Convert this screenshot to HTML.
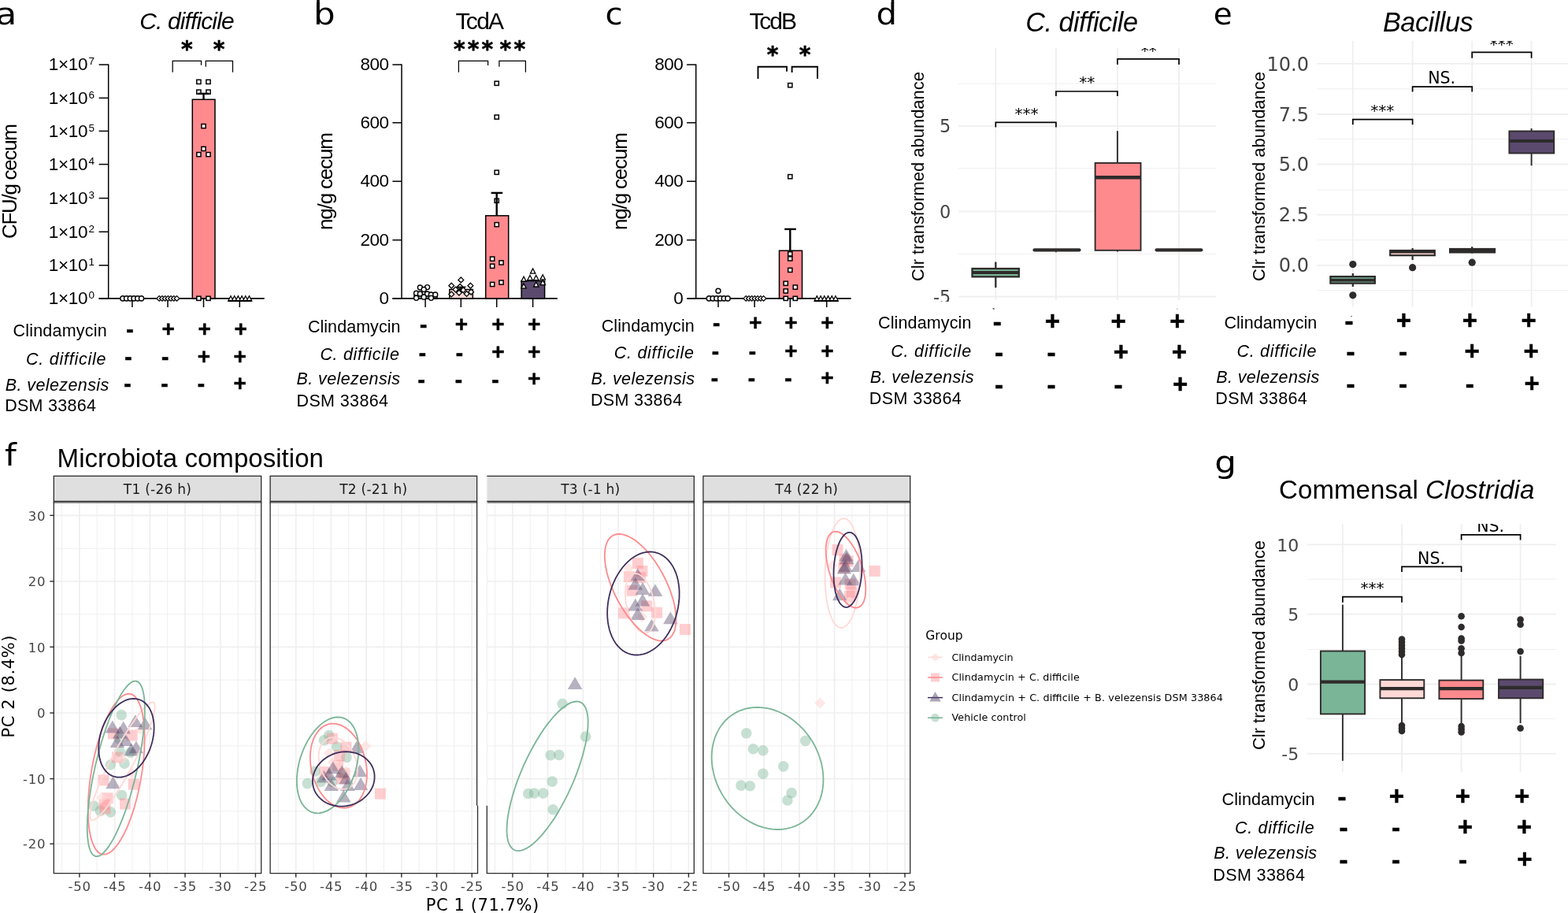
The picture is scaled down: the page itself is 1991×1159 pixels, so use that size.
<!DOCTYPE html>
<html lang="en"><head><meta charset="utf-8"><title>Figure</title>
<style>
html,body{margin:0;padding:0;background:#fff;}
body{width:1991px;height:1159px;overflow:hidden;}
svg{display:block;}
text{white-space:pre;}
</style></head><body>
<svg width="1991" height="1159" viewBox="0 0 1991 1159">
<rect x="0" y="0" width="1991" height="1159" fill="#fff"/>
<text transform="translate(-5.62 31.20) scale(1.17 1.0)" font-size="37.3" font-family="'DejaVu Sans', 'Liberation Sans', sans-serif" fill="#000">a</text>
<text x="177.30" y="37.00" font-size="30" font-family="'Liberation Sans', Arial, Helvetica, sans-serif" fill="#000" font-style="italic" textLength="120.30" lengthAdjust="spacing" >C. difficile</text>
<text x="237.30" y="72.20" font-size="28" font-family="'DejaVu Sans', 'Liberation Sans', sans-serif" fill="#000" text-anchor="middle" font-weight="bold" stroke="#000" stroke-width="0.6">*</text>
<text x="278.20" y="72.20" font-size="28" font-family="'DejaVu Sans', 'Liberation Sans', sans-serif" fill="#000" text-anchor="middle" font-weight="bold" stroke="#000" stroke-width="0.6">*</text>
<path d="M219.2 91.7V77.4H255.5V82.8" fill="none" stroke="#000" stroke-width="1.25" />
<path d="M261.3 84.7V77.4H295.5V91.7" fill="none" stroke="#000" stroke-width="1.25" />
<line x1="137.70" y1="81.40" x2="137.70" y2="378.80" stroke="#000" stroke-width="1.5" />
<line x1="125.60" y1="378.90" x2="335.70" y2="378.90" stroke="#000" stroke-width="1.7" />
<line x1="125.60" y1="82.10" x2="137.70" y2="82.10" stroke="#000" stroke-width="1.5" />
<text x="61.80" y="89.30" font-size="22.5" font-family="'Liberation Sans', Arial, Helvetica, sans-serif" fill="#000" textLength="49.60" lengthAdjust="spacing" >1×10</text>
<text x="112.60" y="82.30" font-size="13.5" font-family="'Liberation Sans', Arial, Helvetica, sans-serif" fill="#000" >7</text>
<line x1="125.60" y1="124.40" x2="137.70" y2="124.40" stroke="#000" stroke-width="1.5" />
<text x="61.80" y="131.60" font-size="22.5" font-family="'Liberation Sans', Arial, Helvetica, sans-serif" fill="#000" textLength="49.60" lengthAdjust="spacing" >1×10</text>
<text x="112.60" y="124.60" font-size="13.5" font-family="'Liberation Sans', Arial, Helvetica, sans-serif" fill="#000" >6</text>
<line x1="125.60" y1="166.40" x2="137.70" y2="166.40" stroke="#000" stroke-width="1.5" />
<text x="61.80" y="173.60" font-size="22.5" font-family="'Liberation Sans', Arial, Helvetica, sans-serif" fill="#000" textLength="49.60" lengthAdjust="spacing" >1×10</text>
<text x="112.60" y="166.60" font-size="13.5" font-family="'Liberation Sans', Arial, Helvetica, sans-serif" fill="#000" >5</text>
<line x1="125.60" y1="208.60" x2="137.70" y2="208.60" stroke="#000" stroke-width="1.5" />
<text x="61.80" y="215.80" font-size="22.5" font-family="'Liberation Sans', Arial, Helvetica, sans-serif" fill="#000" textLength="49.60" lengthAdjust="spacing" >1×10</text>
<text x="112.60" y="208.80" font-size="13.5" font-family="'Liberation Sans', Arial, Helvetica, sans-serif" fill="#000" >4</text>
<line x1="125.60" y1="251.60" x2="137.70" y2="251.60" stroke="#000" stroke-width="1.5" />
<text x="61.80" y="258.80" font-size="22.5" font-family="'Liberation Sans', Arial, Helvetica, sans-serif" fill="#000" textLength="49.60" lengthAdjust="spacing" >1×10</text>
<text x="112.60" y="251.80" font-size="13.5" font-family="'Liberation Sans', Arial, Helvetica, sans-serif" fill="#000" >3</text>
<line x1="125.60" y1="294.30" x2="137.70" y2="294.30" stroke="#000" stroke-width="1.5" />
<text x="61.80" y="301.50" font-size="22.5" font-family="'Liberation Sans', Arial, Helvetica, sans-serif" fill="#000" textLength="49.60" lengthAdjust="spacing" >1×10</text>
<text x="112.60" y="294.50" font-size="13.5" font-family="'Liberation Sans', Arial, Helvetica, sans-serif" fill="#000" >2</text>
<line x1="125.60" y1="336.80" x2="137.70" y2="336.80" stroke="#000" stroke-width="1.5" />
<text x="61.80" y="344.00" font-size="22.5" font-family="'Liberation Sans', Arial, Helvetica, sans-serif" fill="#000" textLength="49.60" lengthAdjust="spacing" >1×10</text>
<text x="112.60" y="337.00" font-size="13.5" font-family="'Liberation Sans', Arial, Helvetica, sans-serif" fill="#000" >1</text>
<line x1="125.60" y1="378.80" x2="137.70" y2="378.80" stroke="#000" stroke-width="1.5" />
<text x="61.80" y="386.00" font-size="22.5" font-family="'Liberation Sans', Arial, Helvetica, sans-serif" fill="#000" textLength="49.60" lengthAdjust="spacing" >1×10</text>
<text x="112.60" y="379.00" font-size="13.5" font-family="'Liberation Sans', Arial, Helvetica, sans-serif" fill="#000" >0</text>
<text x="20.70" y="303.00" font-size="26" font-family="'Liberation Sans', Arial, Helvetica, sans-serif" fill="#000" textLength="146.00" lengthAdjust="spacing" transform="rotate(-90 20.70 303.00)" >CFU/g cecum</text>
<line x1="167.90" y1="378.80" x2="167.90" y2="390.00" stroke="#000" stroke-width="1.5" />
<line x1="213.00" y1="378.80" x2="213.00" y2="390.00" stroke="#000" stroke-width="1.5" />
<line x1="258.50" y1="378.80" x2="258.50" y2="390.00" stroke="#000" stroke-width="1.5" />
<line x1="304.30" y1="378.80" x2="304.30" y2="390.00" stroke="#000" stroke-width="1.5" />
<rect x="244.30" y="126.30" width="28.70" height="252.50" fill="#FF8A8E" stroke="#000" stroke-width="1.5" />
<rect x="249.80" y="101.30" width="5.20" height="5.20" fill="#fff" stroke="#000" stroke-width="1.5" />
<rect x="261.90" y="101.30" width="5.20" height="5.20" fill="#fff" stroke="#000" stroke-width="1.5" />
<rect x="249.80" y="114.10" width="5.20" height="5.20" fill="#fff" stroke="#000" stroke-width="1.5" />
<rect x="261.90" y="114.10" width="5.20" height="5.20" fill="#fff" stroke="#000" stroke-width="1.5" />
<rect x="255.90" y="157.50" width="5.20" height="5.20" fill="#fff" stroke="#000" stroke-width="1.5" />
<rect x="255.90" y="186.30" width="5.20" height="5.20" fill="#fff" stroke="#000" stroke-width="1.5" />
<rect x="249.80" y="193.50" width="5.20" height="5.20" fill="#fff" stroke="#000" stroke-width="1.5" />
<rect x="261.90" y="193.50" width="5.20" height="5.20" fill="#fff" stroke="#000" stroke-width="1.5" />
<rect x="249.80" y="376.20" width="5.20" height="5.20" fill="#fff" stroke="#000" stroke-width="1.5" />
<rect x="261.90" y="376.20" width="5.20" height="5.20" fill="#fff" stroke="#000" stroke-width="1.5" />
<line x1="258.50" y1="118.70" x2="258.50" y2="126.30" stroke="#000" stroke-width="2.4" />
<line x1="251.60" y1="118.90" x2="265.30" y2="118.90" stroke="#000" stroke-width="2.4" />
<circle cx="155.90" cy="378.90" r="3.1" fill="#fff" stroke="#000" stroke-width="1.4" />
<circle cx="160.62" cy="378.90" r="3.1" fill="#fff" stroke="#000" stroke-width="1.4" />
<circle cx="165.34" cy="378.90" r="3.1" fill="#fff" stroke="#000" stroke-width="1.4" />
<circle cx="170.06" cy="378.90" r="3.1" fill="#fff" stroke="#000" stroke-width="1.4" />
<circle cx="174.78" cy="378.90" r="3.1" fill="#fff" stroke="#000" stroke-width="1.4" />
<circle cx="179.50" cy="378.90" r="3.1" fill="#fff" stroke="#000" stroke-width="1.4" />
<path d="M202.20 375.60L205.50 378.90L202.20 382.20L198.90 378.90Z" fill="#fff" stroke="#000" stroke-width="1.3" />
<path d="M205.92 375.60L209.22 378.90L205.92 382.20L202.62 378.90Z" fill="#fff" stroke="#000" stroke-width="1.3" />
<path d="M209.64 375.60L212.94 378.90L209.64 382.20L206.34 378.90Z" fill="#fff" stroke="#000" stroke-width="1.3" />
<path d="M213.36 375.60L216.66 378.90L213.36 382.20L210.06 378.90Z" fill="#fff" stroke="#000" stroke-width="1.3" />
<path d="M217.08 375.60L220.38 378.90L217.08 382.20L213.78 378.90Z" fill="#fff" stroke="#000" stroke-width="1.3" />
<path d="M220.80 375.60L224.10 378.90L220.80 382.20L217.50 378.90Z" fill="#fff" stroke="#000" stroke-width="1.3" />
<path d="M224.52 375.60L227.82 378.90L224.52 382.20L221.22 378.90Z" fill="#fff" stroke="#000" stroke-width="1.3" />
<line x1="289.40" y1="382.30" x2="319.60" y2="382.30" stroke="#000" stroke-width="1.3" />
<path d="M293.00 375.68L296.20 381.76L289.80 381.76Z" fill="#fff" stroke="#000" stroke-width="1.3" />
<path d="M297.70 375.68L300.90 381.76L294.50 381.76Z" fill="#fff" stroke="#000" stroke-width="1.3" />
<path d="M302.40 375.68L305.60 381.76L299.20 381.76Z" fill="#fff" stroke="#000" stroke-width="1.3" />
<path d="M307.10 375.68L310.30 381.76L303.90 381.76Z" fill="#fff" stroke="#000" stroke-width="1.3" />
<path d="M311.80 375.68L315.00 381.76L308.60 381.76Z" fill="#fff" stroke="#000" stroke-width="1.3" />
<path d="M316.50 375.68L319.70 381.76L313.30 381.76Z" fill="#fff" stroke="#000" stroke-width="1.3" />
<text x="16.40" y="427.10" font-size="21.5" font-family="'Liberation Sans', Arial, Helvetica, sans-serif" fill="#000" textLength="119.30" lengthAdjust="spacing" >Clindamycin</text>
<text x="32.90" y="462.60" font-size="21.5" font-family="'Liberation Sans', Arial, Helvetica, sans-serif" fill="#000" font-style="italic" textLength="101.60" lengthAdjust="spacing" >C. difficile</text>
<text x="6.80" y="495.70" font-size="21.5" font-family="'Liberation Sans', Arial, Helvetica, sans-serif" fill="#000" font-style="italic" textLength="131.40" lengthAdjust="spacing" >B. velezensis</text>
<text x="6.20" y="522.30" font-size="21.5" font-family="'Liberation Sans', Arial, Helvetica, sans-serif" fill="#000" textLength="115.80" lengthAdjust="spacing" >DSM 33864</text>
<text x="165.00" y="428.30" font-size="28" font-family="'Liberation Sans', Arial, Helvetica, sans-serif" fill="#000" text-anchor="middle" font-weight="bold" stroke="#000" stroke-width="0.6">-</text>
<text x="213.80" y="427.38" font-size="28" font-family="'Liberation Sans', Arial, Helvetica, sans-serif" fill="#000" text-anchor="middle" font-weight="bold" stroke="#000" stroke-width="0.45">+</text>
<text x="259.70" y="427.38" font-size="28" font-family="'Liberation Sans', Arial, Helvetica, sans-serif" fill="#000" text-anchor="middle" font-weight="bold" stroke="#000" stroke-width="0.45">+</text>
<text x="305.60" y="427.38" font-size="28" font-family="'Liberation Sans', Arial, Helvetica, sans-serif" fill="#000" text-anchor="middle" font-weight="bold" stroke="#000" stroke-width="0.45">+</text>
<text x="163.00" y="462.90" font-size="28" font-family="'Liberation Sans', Arial, Helvetica, sans-serif" fill="#000" text-anchor="middle" font-weight="bold" stroke="#000" stroke-width="0.6">-</text>
<text x="209.70" y="462.90" font-size="28" font-family="'Liberation Sans', Arial, Helvetica, sans-serif" fill="#000" text-anchor="middle" font-weight="bold" stroke="#000" stroke-width="0.6">-</text>
<text x="258.90" y="461.88" font-size="28" font-family="'Liberation Sans', Arial, Helvetica, sans-serif" fill="#000" text-anchor="middle" font-weight="bold" stroke="#000" stroke-width="0.45">+</text>
<text x="304.80" y="461.88" font-size="28" font-family="'Liberation Sans', Arial, Helvetica, sans-serif" fill="#000" text-anchor="middle" font-weight="bold" stroke="#000" stroke-width="0.45">+</text>
<text x="161.80" y="496.70" font-size="28" font-family="'Liberation Sans', Arial, Helvetica, sans-serif" fill="#000" text-anchor="middle" font-weight="bold" stroke="#000" stroke-width="0.6">-</text>
<text x="208.90" y="496.70" font-size="28" font-family="'Liberation Sans', Arial, Helvetica, sans-serif" fill="#000" text-anchor="middle" font-weight="bold" stroke="#000" stroke-width="0.6">-</text>
<text x="255.30" y="496.70" font-size="28" font-family="'Liberation Sans', Arial, Helvetica, sans-serif" fill="#000" text-anchor="middle" font-weight="bold" stroke="#000" stroke-width="0.6">-</text>
<text x="304.80" y="495.68" font-size="28" font-family="'Liberation Sans', Arial, Helvetica, sans-serif" fill="#000" text-anchor="middle" font-weight="bold" stroke="#000" stroke-width="0.45">+</text>
<text transform="translate(397.97 31.20) scale(1.17 1.0)" font-size="37.3" font-family="'DejaVu Sans', 'Liberation Sans', sans-serif" fill="#000">b</text>
<rect x="402.25" y="0.00" width="3.50" height="4.00" fill="#000" stroke="none" stroke-width="1" />
<text x="578.60" y="36.70" font-size="30" font-family="'Liberation Sans', Arial, Helvetica, sans-serif" fill="#000" textLength="61.50" lengthAdjust="spacing" >TcdA</text>
<text x="576.00" y="72.30" font-size="28" font-family="'DejaVu Sans', 'Liberation Sans', sans-serif" fill="#000" font-weight="bold" letter-spacing="3.15" stroke="#000" stroke-width="0.6">***</text>
<text x="634.60" y="72.30" font-size="28" font-family="'DejaVu Sans', 'Liberation Sans', sans-serif" fill="#000" font-weight="bold" letter-spacing="3.25" stroke="#000" stroke-width="0.6">**</text>
<path d="M582.4 91.7V77.4H619.6V83.0" fill="none" stroke="#000" stroke-width="1.25" />
<path d="M633.9 84.7V77.4H667.4V91.7" fill="none" stroke="#000" stroke-width="1.25" />
<line x1="510.00" y1="81.40" x2="510.00" y2="378.80" stroke="#000" stroke-width="1.5" />
<line x1="498.40" y1="378.90" x2="707.80" y2="378.90" stroke="#000" stroke-width="1.7" />
<line x1="498.40" y1="82.10" x2="510.00" y2="82.10" stroke="#000" stroke-width="1.5" />
<text x="494.00" y="89.30" font-size="22.5" font-family="'Liberation Sans', Arial, Helvetica, sans-serif" fill="#000" text-anchor="end" textLength="36.60" lengthAdjust="spacing" >800</text>
<line x1="498.40" y1="155.80" x2="510.00" y2="155.80" stroke="#000" stroke-width="1.5" />
<text x="494.00" y="163.00" font-size="22.5" font-family="'Liberation Sans', Arial, Helvetica, sans-serif" fill="#000" text-anchor="end" textLength="36.60" lengthAdjust="spacing" >600</text>
<line x1="498.40" y1="230.20" x2="510.00" y2="230.20" stroke="#000" stroke-width="1.5" />
<text x="494.00" y="237.40" font-size="22.5" font-family="'Liberation Sans', Arial, Helvetica, sans-serif" fill="#000" text-anchor="end" textLength="36.60" lengthAdjust="spacing" >400</text>
<line x1="498.40" y1="304.70" x2="510.00" y2="304.70" stroke="#000" stroke-width="1.5" />
<text x="494.00" y="311.90" font-size="22.5" font-family="'Liberation Sans', Arial, Helvetica, sans-serif" fill="#000" text-anchor="end" textLength="36.60" lengthAdjust="spacing" >200</text>
<line x1="498.40" y1="378.80" x2="510.00" y2="378.80" stroke="#000" stroke-width="1.5" />
<text x="494.00" y="386.00" font-size="22.5" font-family="'Liberation Sans', Arial, Helvetica, sans-serif" fill="#000" text-anchor="end" >0</text>
<text x="422.30" y="292.00" font-size="26" font-family="'Liberation Sans', Arial, Helvetica, sans-serif" fill="#000" textLength="124.00" lengthAdjust="spacing" transform="rotate(-90 422.30 292.00)" >ng/g cecum</text>
<line x1="540.10" y1="378.80" x2="540.10" y2="390.00" stroke="#000" stroke-width="1.5" />
<line x1="585.30" y1="378.80" x2="585.30" y2="390.00" stroke="#000" stroke-width="1.5" />
<line x1="630.70" y1="378.80" x2="630.70" y2="390.00" stroke="#000" stroke-width="1.5" />
<line x1="676.60" y1="378.80" x2="676.60" y2="390.00" stroke="#000" stroke-width="1.5" />
<rect x="526.00" y="373.50" width="29.00" height="5.30" fill="#7AB597" stroke="#000" stroke-width="1.5" />
<rect x="570.80" y="367.50" width="29.50" height="11.30" fill="#FFD9D6" stroke="#000" stroke-width="1.5" />
<rect x="616.70" y="273.80" width="29.00" height="105.00" fill="#FF8A8E" stroke="#000" stroke-width="1.5" />
<rect x="662.10" y="356.60" width="29.50" height="22.20" fill="#5B4A6E" stroke="#000" stroke-width="1.5" />
<rect x="628.10" y="103.20" width="5.20" height="5.20" fill="#fff" stroke="#000" stroke-width="1.5" />
<rect x="628.10" y="146.00" width="5.20" height="5.20" fill="#fff" stroke="#000" stroke-width="1.5" />
<rect x="628.10" y="216.20" width="5.20" height="5.20" fill="#fff" stroke="#000" stroke-width="1.5" />
<rect x="628.10" y="252.20" width="5.20" height="5.20" fill="#fff" stroke="#000" stroke-width="1.5" />
<rect x="628.12" y="282.52" width="5.20" height="5.20" fill="#fff" stroke="#000" stroke-width="1.5" />
<rect x="622.57" y="326.00" width="5.20" height="5.20" fill="#fff" stroke="#000" stroke-width="1.5" />
<rect x="622.57" y="335.18" width="5.20" height="5.20" fill="#fff" stroke="#000" stroke-width="1.5" />
<rect x="633.92" y="330.83" width="5.20" height="5.20" fill="#fff" stroke="#000" stroke-width="1.5" />
<rect x="622.57" y="358.37" width="5.20" height="5.20" fill="#fff" stroke="#000" stroke-width="1.5" />
<rect x="633.92" y="355.95" width="5.20" height="5.20" fill="#fff" stroke="#000" stroke-width="1.5" />
<circle cx="533.38" cy="365.07" r="3.0" fill="#fff" stroke="#000" stroke-width="1.4" />
<circle cx="542.56" cy="364.59" r="3.0" fill="#fff" stroke="#000" stroke-width="1.4" />
<circle cx="538.21" cy="367.49" r="3.0" fill="#fff" stroke="#000" stroke-width="1.4" />
<circle cx="528.55" cy="372.32" r="3.0" fill="#fff" stroke="#000" stroke-width="1.4" />
<circle cx="533.38" cy="373.04" r="3.0" fill="#fff" stroke="#000" stroke-width="1.4" />
<circle cx="542.56" cy="373.04" r="3.0" fill="#fff" stroke="#000" stroke-width="1.4" />
<circle cx="547.39" cy="374.01" r="3.0" fill="#fff" stroke="#000" stroke-width="1.4" />
<circle cx="552.71" cy="374.01" r="3.0" fill="#fff" stroke="#000" stroke-width="1.4" />
<circle cx="538.21" cy="377.15" r="3.0" fill="#fff" stroke="#000" stroke-width="1.4" />
<circle cx="528.55" cy="378.36" r="3.0" fill="#fff" stroke="#000" stroke-width="1.4" />
<circle cx="547.39" cy="378.36" r="3.0" fill="#fff" stroke="#000" stroke-width="1.4" />
<path d="M585.31 352.01L588.71 355.41L585.31 358.81L581.91 355.41Z" fill="#fff" stroke="#000" stroke-width="1.3" />
<path d="M573.24 359.26L576.64 362.66L573.24 366.06L569.84 362.66Z" fill="#fff" stroke="#000" stroke-width="1.3" />
<path d="M584.11 360.46L587.51 363.86L584.11 367.26L580.71 363.86Z" fill="#fff" stroke="#000" stroke-width="1.3" />
<path d="M597.39 359.26L600.79 362.66L597.39 366.06L593.99 362.66Z" fill="#fff" stroke="#000" stroke-width="1.3" />
<path d="M578.55 364.09L581.95 367.49L578.55 370.89L575.15 367.49Z" fill="#fff" stroke="#000" stroke-width="1.3" />
<path d="M588.21 364.81L591.61 368.21L588.21 371.61L584.81 368.21Z" fill="#fff" stroke="#000" stroke-width="1.3" />
<path d="M573.24 370.13L576.64 373.53L573.24 376.93L569.84 373.53Z" fill="#fff" stroke="#000" stroke-width="1.3" />
<path d="M582.90 368.19L586.30 371.59L582.90 374.99L579.50 371.59Z" fill="#fff" stroke="#000" stroke-width="1.3" />
<path d="M592.56 369.64L595.96 373.04L592.56 376.44L589.16 373.04Z" fill="#fff" stroke="#000" stroke-width="1.3" />
<path d="M598.12 367.23L601.52 370.63L598.12 374.03L594.72 370.63Z" fill="#fff" stroke="#000" stroke-width="1.3" />
<path d="M676.62 341.02L679.82 347.10L673.42 347.10Z" fill="#fff" stroke="#000" stroke-width="1.3" />
<path d="M665.02 351.17L668.22 357.25L661.82 357.25Z" fill="#fff" stroke="#000" stroke-width="1.3" />
<path d="M673.00 349.48L676.20 355.56L669.80 355.56Z" fill="#fff" stroke="#000" stroke-width="1.3" />
<path d="M680.72 349.48L683.92 355.56L677.52 355.56Z" fill="#fff" stroke="#000" stroke-width="1.3" />
<path d="M689.18 348.75L692.38 354.83L685.98 354.83Z" fill="#fff" stroke="#000" stroke-width="1.3" />
<path d="M665.02 359.86L668.22 365.94L661.82 365.94Z" fill="#fff" stroke="#000" stroke-width="1.3" />
<path d="M680.72 357.93L683.92 364.01L677.52 364.01Z" fill="#fff" stroke="#000" stroke-width="1.3" />
<path d="M689.18 355.51L692.38 361.59L685.98 361.59Z" fill="#fff" stroke="#000" stroke-width="1.3" />
<line x1="630.70" y1="244.70" x2="630.70" y2="274.00" stroke="#000" stroke-width="2.4" />
<line x1="623.60" y1="244.90" x2="638.20" y2="244.90" stroke="#000" stroke-width="2.4" />
<line x1="585.30" y1="364.50" x2="585.30" y2="368.00" stroke="#000" stroke-width="1.8" />
<line x1="579.50" y1="364.50" x2="591.50" y2="364.50" stroke="#000" stroke-width="1.8" />
<text x="390.90" y="422.20" font-size="21.5" font-family="'Liberation Sans', Arial, Helvetica, sans-serif" fill="#000" textLength="117.60" lengthAdjust="spacing" >Clindamycin</text>
<text x="406.40" y="456.50" font-size="21.5" font-family="'Liberation Sans', Arial, Helvetica, sans-serif" fill="#000" font-style="italic" textLength="100.60" lengthAdjust="spacing" >C. difficile</text>
<text x="376.60" y="488.30" font-size="21.5" font-family="'Liberation Sans', Arial, Helvetica, sans-serif" fill="#000" font-style="italic" textLength="131.40" lengthAdjust="spacing" >B. velezensis</text>
<text x="376.50" y="515.50" font-size="21.5" font-family="'Liberation Sans', Arial, Helvetica, sans-serif" fill="#000" textLength="116.50" lengthAdjust="spacing" >DSM 33864</text>
<text x="537.70" y="422.30" font-size="28" font-family="'Liberation Sans', Arial, Helvetica, sans-serif" fill="#000" text-anchor="middle" font-weight="bold" stroke="#000" stroke-width="0.6">-</text>
<text x="586.00" y="420.88" font-size="28" font-family="'Liberation Sans', Arial, Helvetica, sans-serif" fill="#000" text-anchor="middle" font-weight="bold" stroke="#000" stroke-width="0.45">+</text>
<text x="632.40" y="420.88" font-size="28" font-family="'Liberation Sans', Arial, Helvetica, sans-serif" fill="#000" text-anchor="middle" font-weight="bold" stroke="#000" stroke-width="0.45">+</text>
<text x="678.30" y="420.88" font-size="28" font-family="'Liberation Sans', Arial, Helvetica, sans-serif" fill="#000" text-anchor="middle" font-weight="bold" stroke="#000" stroke-width="0.45">+</text>
<text x="536.50" y="457.60" font-size="28" font-family="'Liberation Sans', Arial, Helvetica, sans-serif" fill="#000" text-anchor="middle" font-weight="bold" stroke="#000" stroke-width="0.6">-</text>
<text x="583.40" y="457.60" font-size="28" font-family="'Liberation Sans', Arial, Helvetica, sans-serif" fill="#000" text-anchor="middle" font-weight="bold" stroke="#000" stroke-width="0.6">-</text>
<text x="632.40" y="456.08" font-size="28" font-family="'Liberation Sans', Arial, Helvetica, sans-serif" fill="#000" text-anchor="middle" font-weight="bold" stroke="#000" stroke-width="0.45">+</text>
<text x="678.30" y="456.08" font-size="28" font-family="'Liberation Sans', Arial, Helvetica, sans-serif" fill="#000" text-anchor="middle" font-weight="bold" stroke="#000" stroke-width="0.45">+</text>
<text x="535.10" y="491.60" font-size="28" font-family="'Liberation Sans', Arial, Helvetica, sans-serif" fill="#000" text-anchor="middle" font-weight="bold" stroke="#000" stroke-width="0.6">-</text>
<text x="582.40" y="491.60" font-size="28" font-family="'Liberation Sans', Arial, Helvetica, sans-serif" fill="#000" text-anchor="middle" font-weight="bold" stroke="#000" stroke-width="0.6">-</text>
<text x="628.80" y="491.60" font-size="28" font-family="'Liberation Sans', Arial, Helvetica, sans-serif" fill="#000" text-anchor="middle" font-weight="bold" stroke="#000" stroke-width="0.6">-</text>
<text x="678.30" y="490.18" font-size="28" font-family="'Liberation Sans', Arial, Helvetica, sans-serif" fill="#000" text-anchor="middle" font-weight="bold" stroke="#000" stroke-width="0.45">+</text>
<text transform="translate(768.48 31.20) scale(1.08 1.0)" font-size="37.3" font-family="'DejaVu Sans', 'Liberation Sans', sans-serif" fill="#000">c</text>
<text x="951.40" y="36.70" font-size="30" font-family="'Liberation Sans', Arial, Helvetica, sans-serif" fill="#000" textLength="60.50" lengthAdjust="spacing" >TcdB</text>
<text x="981.10" y="79.10" font-size="28" font-family="'DejaVu Sans', 'Liberation Sans', sans-serif" fill="#000" text-anchor="middle" font-weight="bold" stroke="#000" stroke-width="0.6">*</text>
<text x="1022.10" y="79.10" font-size="28" font-family="'DejaVu Sans', 'Liberation Sans', sans-serif" fill="#000" text-anchor="middle" font-weight="bold" stroke="#000" stroke-width="0.6">*</text>
<path d="M962.5 99.9V84.7H999.0V90.7" fill="none" stroke="#000" stroke-width="1.9" />
<path d="M1005.6 91.9V84.7H1038.0V99.9" fill="none" stroke="#000" stroke-width="1.9" />
<line x1="883.70" y1="81.40" x2="883.70" y2="378.80" stroke="#000" stroke-width="1.5" />
<line x1="872.10" y1="378.90" x2="1080.60" y2="378.90" stroke="#000" stroke-width="1.7" />
<line x1="872.10" y1="82.10" x2="883.70" y2="82.10" stroke="#000" stroke-width="1.5" />
<text x="867.80" y="89.30" font-size="22.5" font-family="'Liberation Sans', Arial, Helvetica, sans-serif" fill="#000" text-anchor="end" textLength="36.60" lengthAdjust="spacing" >800</text>
<line x1="872.10" y1="155.80" x2="883.70" y2="155.80" stroke="#000" stroke-width="1.5" />
<text x="867.80" y="163.00" font-size="22.5" font-family="'Liberation Sans', Arial, Helvetica, sans-serif" fill="#000" text-anchor="end" textLength="36.60" lengthAdjust="spacing" >600</text>
<line x1="872.10" y1="230.20" x2="883.70" y2="230.20" stroke="#000" stroke-width="1.5" />
<text x="867.80" y="237.40" font-size="22.5" font-family="'Liberation Sans', Arial, Helvetica, sans-serif" fill="#000" text-anchor="end" textLength="36.60" lengthAdjust="spacing" >400</text>
<line x1="872.10" y1="304.70" x2="883.70" y2="304.70" stroke="#000" stroke-width="1.5" />
<text x="867.80" y="311.90" font-size="22.5" font-family="'Liberation Sans', Arial, Helvetica, sans-serif" fill="#000" text-anchor="end" textLength="36.60" lengthAdjust="spacing" >200</text>
<line x1="872.10" y1="378.80" x2="883.70" y2="378.80" stroke="#000" stroke-width="1.5" />
<text x="867.80" y="386.00" font-size="22.5" font-family="'Liberation Sans', Arial, Helvetica, sans-serif" fill="#000" text-anchor="end" >0</text>
<text x="796.30" y="292.00" font-size="26" font-family="'Liberation Sans', Arial, Helvetica, sans-serif" fill="#000" textLength="124.00" lengthAdjust="spacing" transform="rotate(-90 796.30 292.00)" >ng/g cecum</text>
<line x1="912.00" y1="378.80" x2="912.00" y2="390.00" stroke="#000" stroke-width="1.5" />
<line x1="958.10" y1="378.80" x2="958.10" y2="390.00" stroke="#000" stroke-width="1.5" />
<line x1="1003.30" y1="378.80" x2="1003.30" y2="390.00" stroke="#000" stroke-width="1.5" />
<line x1="1049.70" y1="378.80" x2="1049.70" y2="390.00" stroke="#000" stroke-width="1.5" />
<rect x="989.50" y="318.20" width="29.00" height="60.60" fill="#FF8A8E" stroke="#000" stroke-width="1.5" />
<rect x="1000.70" y="105.60" width="5.20" height="5.20" fill="#fff" stroke="#000" stroke-width="1.5" />
<rect x="1000.70" y="221.60" width="5.20" height="5.20" fill="#fff" stroke="#000" stroke-width="1.5" />
<rect x="1000.69" y="319.72" width="5.20" height="5.20" fill="#fff" stroke="#000" stroke-width="1.5" />
<rect x="1000.69" y="325.76" width="5.20" height="5.20" fill="#fff" stroke="#000" stroke-width="1.5" />
<rect x="1000.69" y="340.25" width="5.20" height="5.20" fill="#fff" stroke="#000" stroke-width="1.5" />
<rect x="995.13" y="357.16" width="5.20" height="5.20" fill="#fff" stroke="#000" stroke-width="1.5" />
<rect x="1007.21" y="361.99" width="5.20" height="5.20" fill="#fff" stroke="#000" stroke-width="1.5" />
<rect x="995.13" y="366.82" width="5.20" height="5.20" fill="#fff" stroke="#000" stroke-width="1.5" />
<rect x="995.13" y="376.24" width="5.20" height="5.20" fill="#fff" stroke="#000" stroke-width="1.5" />
<rect x="1007.21" y="376.24" width="5.20" height="5.20" fill="#fff" stroke="#000" stroke-width="1.5" />
<circle cx="900.39" cy="378.90" r="3.1" fill="#fff" stroke="#000" stroke-width="1.4" />
<circle cx="905.12" cy="378.90" r="3.1" fill="#fff" stroke="#000" stroke-width="1.4" />
<circle cx="909.86" cy="378.90" r="3.1" fill="#fff" stroke="#000" stroke-width="1.4" />
<circle cx="914.59" cy="378.90" r="3.1" fill="#fff" stroke="#000" stroke-width="1.4" />
<circle cx="919.32" cy="378.90" r="3.1" fill="#fff" stroke="#000" stroke-width="1.4" />
<circle cx="924.06" cy="378.90" r="3.1" fill="#fff" stroke="#000" stroke-width="1.4" />
<circle cx="911.98" cy="369.18" r="3.0" fill="#fff" stroke="#000" stroke-width="1.4" />
<path d="M947.25 375.60L950.55 378.90L947.25 382.20L943.95 378.90Z" fill="#fff" stroke="#000" stroke-width="1.3" />
<path d="M950.97 375.60L954.27 378.90L950.97 382.20L947.67 378.90Z" fill="#fff" stroke="#000" stroke-width="1.3" />
<path d="M954.69 375.60L957.99 378.90L954.69 382.20L951.39 378.90Z" fill="#fff" stroke="#000" stroke-width="1.3" />
<path d="M958.41 375.60L961.71 378.90L958.41 382.20L955.11 378.90Z" fill="#fff" stroke="#000" stroke-width="1.3" />
<path d="M962.13 375.60L965.43 378.90L962.13 382.20L958.83 378.90Z" fill="#fff" stroke="#000" stroke-width="1.3" />
<path d="M965.85 375.60L969.15 378.90L965.85 382.20L962.55 378.90Z" fill="#fff" stroke="#000" stroke-width="1.3" />
<path d="M969.57 375.60L972.87 378.90L969.57 382.20L966.27 378.90Z" fill="#fff" stroke="#000" stroke-width="1.3" />
<line x1="1033.72" y1="382.30" x2="1064.64" y2="382.30" stroke="#000" stroke-width="1.3" />
<path d="M1037.34 375.68L1040.54 381.76L1034.14 381.76Z" fill="#fff" stroke="#000" stroke-width="1.3" />
<path d="M1042.08 375.68L1045.28 381.76L1038.88 381.76Z" fill="#fff" stroke="#000" stroke-width="1.3" />
<path d="M1046.81 375.68L1050.01 381.76L1043.61 381.76Z" fill="#fff" stroke="#000" stroke-width="1.3" />
<path d="M1051.55 375.68L1054.75 381.76L1048.35 381.76Z" fill="#fff" stroke="#000" stroke-width="1.3" />
<path d="M1056.28 375.68L1059.48 381.76L1053.08 381.76Z" fill="#fff" stroke="#000" stroke-width="1.3" />
<path d="M1061.01 375.68L1064.21 381.76L1057.81 381.76Z" fill="#fff" stroke="#000" stroke-width="1.3" />
<line x1="1003.30" y1="290.70" x2="1003.30" y2="318.50" stroke="#000" stroke-width="2.4" />
<line x1="996.20" y1="290.90" x2="1010.80" y2="290.90" stroke="#000" stroke-width="2.4" />
<text x="763.70" y="420.50" font-size="21.5" font-family="'Liberation Sans', Arial, Helvetica, sans-serif" fill="#000" textLength="118.10" lengthAdjust="spacing" >Clindamycin</text>
<text x="779.70" y="455.00" font-size="21.5" font-family="'Liberation Sans', Arial, Helvetica, sans-serif" fill="#000" font-style="italic" textLength="101.30" lengthAdjust="spacing" >C. difficile</text>
<text x="750.40" y="487.60" font-size="21.5" font-family="'Liberation Sans', Arial, Helvetica, sans-serif" fill="#000" font-style="italic" textLength="131.60" lengthAdjust="spacing" >B. velezensis</text>
<text x="749.90" y="515.30" font-size="21.5" font-family="'Liberation Sans', Arial, Helvetica, sans-serif" fill="#000" textLength="116.20" lengthAdjust="spacing" >DSM 33864</text>
<text x="909.60" y="420.40" font-size="28" font-family="'Liberation Sans', Arial, Helvetica, sans-serif" fill="#000" text-anchor="middle" font-weight="bold" stroke="#000" stroke-width="0.6">-</text>
<text x="959.10" y="419.18" font-size="28" font-family="'Liberation Sans', Arial, Helvetica, sans-serif" fill="#000" text-anchor="middle" font-weight="bold" stroke="#000" stroke-width="0.45">+</text>
<text x="1004.50" y="419.18" font-size="28" font-family="'Liberation Sans', Arial, Helvetica, sans-serif" fill="#000" text-anchor="middle" font-weight="bold" stroke="#000" stroke-width="0.45">+</text>
<text x="1050.40" y="419.18" font-size="28" font-family="'Liberation Sans', Arial, Helvetica, sans-serif" fill="#000" text-anchor="middle" font-weight="bold" stroke="#000" stroke-width="0.45">+</text>
<text x="908.40" y="455.60" font-size="28" font-family="'Liberation Sans', Arial, Helvetica, sans-serif" fill="#000" text-anchor="middle" font-weight="bold" stroke="#000" stroke-width="0.6">-</text>
<text x="955.50" y="455.60" font-size="28" font-family="'Liberation Sans', Arial, Helvetica, sans-serif" fill="#000" text-anchor="middle" font-weight="bold" stroke="#000" stroke-width="0.6">-</text>
<text x="1004.50" y="454.68" font-size="28" font-family="'Liberation Sans', Arial, Helvetica, sans-serif" fill="#000" text-anchor="middle" font-weight="bold" stroke="#000" stroke-width="0.45">+</text>
<text x="1050.40" y="454.68" font-size="28" font-family="'Liberation Sans', Arial, Helvetica, sans-serif" fill="#000" text-anchor="middle" font-weight="bold" stroke="#000" stroke-width="0.45">+</text>
<text x="907.40" y="489.90" font-size="28" font-family="'Liberation Sans', Arial, Helvetica, sans-serif" fill="#000" text-anchor="middle" font-weight="bold" stroke="#000" stroke-width="0.6">-</text>
<text x="954.50" y="489.90" font-size="28" font-family="'Liberation Sans', Arial, Helvetica, sans-serif" fill="#000" text-anchor="middle" font-weight="bold" stroke="#000" stroke-width="0.6">-</text>
<text x="1000.90" y="489.90" font-size="28" font-family="'Liberation Sans', Arial, Helvetica, sans-serif" fill="#000" text-anchor="middle" font-weight="bold" stroke="#000" stroke-width="0.6">-</text>
<text x="1050.40" y="488.98" font-size="28" font-family="'Liberation Sans', Arial, Helvetica, sans-serif" fill="#000" text-anchor="middle" font-weight="bold" stroke="#000" stroke-width="0.45">+</text>
<text transform="translate(1112.40 31.20) scale(1.12 1.0)" font-size="37.3" font-family="'DejaVu Sans', 'Liberation Sans', sans-serif" fill="#000">d</text>
<rect x="1131.75" y="0.00" width="3.45" height="4.00" fill="#000" stroke="none" stroke-width="1" />
<text x="1302.30" y="39.90" font-size="34.2" font-family="'Liberation Sans', Arial, Helvetica, sans-serif" fill="#000" font-style="italic" textLength="142.60" lengthAdjust="spacing" >C. difficile</text>
<clipPath id="cpd"><rect x="1200" y="60.9" width="360" height="321.5"/></clipPath>
<clipPath id="cpdl"><rect x="1170" y="60.9" width="45" height="322"/></clipPath>
<line x1="1217.20" y1="106.30" x2="1544.00" y2="106.30" stroke="#EFEFEF" stroke-width="1.0" />
<line x1="1217.20" y1="213.80" x2="1544.00" y2="213.80" stroke="#EFEFEF" stroke-width="1.0" />
<line x1="1217.20" y1="322.30" x2="1544.00" y2="322.30" stroke="#EFEFEF" stroke-width="1.0" />
<line x1="1217.20" y1="160.20" x2="1544.00" y2="160.20" stroke="#EFEFEF" stroke-width="1.8" />
<line x1="1217.20" y1="268.30" x2="1544.00" y2="268.30" stroke="#EFEFEF" stroke-width="1.8" />
<line x1="1217.20" y1="376.50" x2="1544.00" y2="376.50" stroke="#EFEFEF" stroke-width="1.8" />
<line x1="1264.30" y1="60.90" x2="1264.30" y2="380.80" stroke="#EFEFEF" stroke-width="1.8" />
<line x1="1340.90" y1="60.90" x2="1340.90" y2="380.80" stroke="#EFEFEF" stroke-width="1.8" />
<line x1="1418.90" y1="60.90" x2="1418.90" y2="380.80" stroke="#EFEFEF" stroke-width="1.8" />
<line x1="1497.00" y1="60.90" x2="1497.00" y2="380.80" stroke="#EFEFEF" stroke-width="1.8" />
<text x="1207.40" y="168.40" font-size="22.5" font-family="'DejaVu Sans', 'Liberation Sans', sans-serif" fill="#454545" text-anchor="end" clip-path="url(#cpdl)">5</text>
<text x="1207.40" y="276.50" font-size="22.5" font-family="'DejaVu Sans', 'Liberation Sans', sans-serif" fill="#454545" text-anchor="end" clip-path="url(#cpdl)">0</text>
<text x="1207.40" y="384.70" font-size="22.5" font-family="'DejaVu Sans', 'Liberation Sans', sans-serif" fill="#454545" text-anchor="end" clip-path="url(#cpdl)">-5</text>
<text x="1172.50" y="357.00" font-size="22" font-family="'Liberation Sans', Arial, Helvetica, sans-serif" fill="#000" textLength="266.00" lengthAdjust="spacing" transform="rotate(-90 1172.50 357.00)" >Clr transformed abundance</text>
<path d="M1264.30 161.40V155.40H1340.90V161.40" fill="none" stroke="#000" stroke-width="1.7" clip-path="url(#cpd)"/>
<text x="1303.40" y="151.00" font-size="20" font-family="'DejaVu Sans', 'Liberation Sans', sans-serif" fill="#000" text-anchor="middle" clip-path="url(#cpd)">***</text>
<path d="M1340.90 122.00V116.00H1418.90V122.00" fill="none" stroke="#000" stroke-width="1.7" clip-path="url(#cpd)"/>
<text x="1380.30" y="111.20" font-size="20" font-family="'DejaVu Sans', 'Liberation Sans', sans-serif" fill="#000" text-anchor="middle" clip-path="url(#cpd)">**</text>
<path d="M1418.90 81.90V74.90H1497.00V81.90" fill="none" stroke="#000" stroke-width="1.7" clip-path="url(#cpd)"/>
<text x="1458.80" y="71.20" font-size="20" font-family="'DejaVu Sans', 'Liberation Sans', sans-serif" fill="#000" text-anchor="middle" clip-path="url(#cpd)">**</text>
<line x1="1264.30" y1="332.50" x2="1264.30" y2="341.00" stroke="#2E2B2B" stroke-width="2.3" />
<line x1="1264.30" y1="351.30" x2="1264.30" y2="365.10" stroke="#2E2B2B" stroke-width="2.3" />
<rect x="1234.50" y="341.00" width="59.30" height="10.30" fill="#7AB597" stroke="#2E2B2B" stroke-width="2.3" />
<line x1="1234.50" y1="346.00" x2="1293.80" y2="346.00" stroke="#2E2B2B" stroke-width="3.8" />
<line x1="1313.50" y1="317.30" x2="1370.40" y2="317.30" stroke="#2E2B2B" stroke-width="4.2" stroke-linecap="round"/>
<line x1="1340.90" y1="317.00" x2="1340.90" y2="320.50" stroke="#2E2B2B" stroke-width="1.2" />
<line x1="1418.90" y1="166.20" x2="1418.90" y2="206.90" stroke="#2E2B2B" stroke-width="1.9" />
<line x1="1418.90" y1="317.80" x2="1418.90" y2="319.50" stroke="#2E2B2B" stroke-width="1.9" />
<rect x="1390.60" y="206.90" width="57.90" height="110.90" fill="#FF8A8E" stroke="#2E2B2B" stroke-width="1.9" />
<line x1="1390.60" y1="225.20" x2="1448.50" y2="225.20" stroke="#2E2B2B" stroke-width="4.4" />
<line x1="1468.60" y1="317.30" x2="1525.30" y2="317.30" stroke="#2E2B2B" stroke-width="4.2" stroke-linecap="round"/>
<line x1="1260.60" y1="391.20" x2="1262.60" y2="392.60" stroke="#333" stroke-width="1.2" />
<circle cx="1494.80" cy="392.30" r="0.7" fill="#999" stroke="none" stroke-width="0" />
<text x="1115.00" y="417.00" font-size="21.5" font-family="'Liberation Sans', Arial, Helvetica, sans-serif" fill="#000" textLength="118.40" lengthAdjust="spacing" >Clindamycin</text>
<text x="1131.20" y="452.80" font-size="21.5" font-family="'Liberation Sans', Arial, Helvetica, sans-serif" fill="#000" font-style="italic" textLength="101.90" lengthAdjust="spacing" >C. difficile</text>
<text x="1104.80" y="485.90" font-size="21.5" font-family="'Liberation Sans', Arial, Helvetica, sans-serif" fill="#000" font-style="italic" textLength="131.70" lengthAdjust="spacing" >B. velezensis</text>
<text x="1103.80" y="513.10" font-size="21.5" font-family="'Liberation Sans', Arial, Helvetica, sans-serif" fill="#000" textLength="117.00" lengthAdjust="spacing" >DSM 33864</text>
<text x="1266.20" y="420.07" font-size="33" font-family="'Liberation Sans', Arial, Helvetica, sans-serif" fill="#000" text-anchor="middle" font-weight="bold" stroke="#000" stroke-width="0.6">-</text>
<text x="1336.30" y="419.23" font-size="33" font-family="'Liberation Sans', Arial, Helvetica, sans-serif" fill="#000" text-anchor="middle" font-weight="bold" stroke="#000" stroke-width="0.45">+</text>
<text x="1420.10" y="419.23" font-size="33" font-family="'Liberation Sans', Arial, Helvetica, sans-serif" fill="#000" text-anchor="middle" font-weight="bold" stroke="#000" stroke-width="0.45">+</text>
<text x="1495.00" y="419.23" font-size="33" font-family="'Liberation Sans', Arial, Helvetica, sans-serif" fill="#000" text-anchor="middle" font-weight="bold" stroke="#000" stroke-width="0.45">+</text>
<text x="1268.40" y="459.18" font-size="33" font-family="'Liberation Sans', Arial, Helvetica, sans-serif" fill="#000" text-anchor="middle" font-weight="bold" stroke="#000" stroke-width="0.6">-</text>
<text x="1335.10" y="459.18" font-size="33" font-family="'Liberation Sans', Arial, Helvetica, sans-serif" fill="#000" text-anchor="middle" font-weight="bold" stroke="#000" stroke-width="0.6">-</text>
<text x="1423.30" y="457.93" font-size="33" font-family="'Liberation Sans', Arial, Helvetica, sans-serif" fill="#000" text-anchor="middle" font-weight="bold" stroke="#000" stroke-width="0.45">+</text>
<text x="1497.40" y="457.93" font-size="33" font-family="'Liberation Sans', Arial, Helvetica, sans-serif" fill="#000" text-anchor="middle" font-weight="bold" stroke="#000" stroke-width="0.45">+</text>
<text x="1268.40" y="500.27" font-size="33" font-family="'Liberation Sans', Arial, Helvetica, sans-serif" fill="#000" text-anchor="middle" font-weight="bold" stroke="#000" stroke-width="0.6">-</text>
<text x="1335.10" y="500.27" font-size="33" font-family="'Liberation Sans', Arial, Helvetica, sans-serif" fill="#000" text-anchor="middle" font-weight="bold" stroke="#000" stroke-width="0.6">-</text>
<text x="1420.10" y="500.27" font-size="33" font-family="'Liberation Sans', Arial, Helvetica, sans-serif" fill="#000" text-anchor="middle" font-weight="bold" stroke="#000" stroke-width="0.6">-</text>
<text x="1498.60" y="498.53" font-size="33" font-family="'Liberation Sans', Arial, Helvetica, sans-serif" fill="#000" text-anchor="middle" font-weight="bold" stroke="#000" stroke-width="0.45">+</text>
<text transform="translate(1540.77 31.20) scale(1.04 1.0)" font-size="37.3" font-family="'DejaVu Sans', 'Liberation Sans', sans-serif" fill="#000">e</text>
<text x="1756.00" y="39.90" font-size="34.2" font-family="'Liberation Sans', Arial, Helvetica, sans-serif" fill="#000" font-style="italic" textLength="114.60" lengthAdjust="spacing" >Bacillus</text>
<clipPath id="cpe"><rect x="1660" y="52" width="340" height="338"/></clipPath>
<line x1="1672.30" y1="112.80" x2="1991.00" y2="112.80" stroke="#EFEFEF" stroke-width="1.0" />
<line x1="1672.30" y1="176.60" x2="1991.00" y2="176.60" stroke="#EFEFEF" stroke-width="1.0" />
<line x1="1672.30" y1="241.10" x2="1991.00" y2="241.10" stroke="#EFEFEF" stroke-width="1.0" />
<line x1="1672.30" y1="304.70" x2="1991.00" y2="304.70" stroke="#EFEFEF" stroke-width="1.0" />
<line x1="1672.30" y1="368.70" x2="1991.00" y2="368.70" stroke="#EFEFEF" stroke-width="1.0" />
<line x1="1672.30" y1="80.90" x2="1991.00" y2="80.90" stroke="#EFEFEF" stroke-width="1.8" />
<line x1="1672.30" y1="145.00" x2="1991.00" y2="145.00" stroke="#EFEFEF" stroke-width="1.8" />
<line x1="1672.30" y1="208.50" x2="1991.00" y2="208.50" stroke="#EFEFEF" stroke-width="1.8" />
<line x1="1672.30" y1="272.60" x2="1991.00" y2="272.60" stroke="#EFEFEF" stroke-width="1.8" />
<line x1="1672.30" y1="336.80" x2="1991.00" y2="336.80" stroke="#EFEFEF" stroke-width="1.8" />
<line x1="1717.80" y1="52.00" x2="1717.80" y2="389.70" stroke="#EFEFEF" stroke-width="1.8" />
<line x1="1793.60" y1="52.00" x2="1793.60" y2="389.70" stroke="#EFEFEF" stroke-width="1.8" />
<line x1="1869.20" y1="52.00" x2="1869.20" y2="389.70" stroke="#EFEFEF" stroke-width="1.8" />
<line x1="1944.60" y1="52.00" x2="1944.60" y2="389.70" stroke="#EFEFEF" stroke-width="1.8" />
<text x="1662.00" y="89.50" font-size="24" font-family="'DejaVu Sans', 'Liberation Sans', sans-serif" fill="#454545" text-anchor="end" >10.0</text>
<text x="1662.00" y="153.60" font-size="24" font-family="'DejaVu Sans', 'Liberation Sans', sans-serif" fill="#454545" text-anchor="end" >7.5</text>
<text x="1662.00" y="217.10" font-size="24" font-family="'DejaVu Sans', 'Liberation Sans', sans-serif" fill="#454545" text-anchor="end" >5.0</text>
<text x="1662.00" y="281.20" font-size="24" font-family="'DejaVu Sans', 'Liberation Sans', sans-serif" fill="#454545" text-anchor="end" >2.5</text>
<text x="1662.00" y="345.40" font-size="24" font-family="'DejaVu Sans', 'Liberation Sans', sans-serif" fill="#454545" text-anchor="end" >0.0</text>
<text x="1606.00" y="357.00" font-size="22" font-family="'Liberation Sans', Arial, Helvetica, sans-serif" fill="#000" textLength="266.00" lengthAdjust="spacing" transform="rotate(-90 1606.00 357.00)" >Clr transformed abundance</text>
<path d="M1717.80 158.20V151.70H1793.60V158.20" fill="none" stroke="#000" stroke-width="1.7" clip-path="url(#cpe)"/>
<text x="1755.20" y="146.80" font-size="20" font-family="'DejaVu Sans', 'Liberation Sans', sans-serif" fill="#000" text-anchor="middle" clip-path="url(#cpe)">***</text>
<path d="M1793.60 116.50V110.20H1869.20V116.50" fill="none" stroke="#000" stroke-width="1.7" clip-path="url(#cpe)"/>
<text x="1830.60" y="105.60" font-size="20.5" font-family="'DejaVu Sans', 'Liberation Sans', sans-serif" fill="#000" text-anchor="middle" clip-path="url(#cpe)">NS.</text>
<path d="M1869.20 73.70V66.40H1944.60V73.70" fill="none" stroke="#000" stroke-width="1.7" clip-path="url(#cpe)"/>
<text x="1906.70" y="62.60" font-size="20" font-family="'DejaVu Sans', 'Liberation Sans', sans-serif" fill="#000" text-anchor="middle" clip-path="url(#cpe)">***</text>
<line x1="1717.80" y1="347.00" x2="1717.80" y2="351.10" stroke="#2E2B2B" stroke-width="2.3" />
<line x1="1717.80" y1="359.60" x2="1717.80" y2="363.90" stroke="#2E2B2B" stroke-width="2.3" />
<rect x="1689.40" y="351.10" width="56.40" height="8.50" fill="#7AB597" stroke="#2E2B2B" stroke-width="2.3" />
<line x1="1689.40" y1="355.60" x2="1745.80" y2="355.60" stroke="#2E2B2B" stroke-width="3.6" />
<circle cx="1717.80" cy="335.60" r="4.6" fill="#2E2B2B" stroke="none" stroke-width="0" />
<circle cx="1717.80" cy="374.80" r="4.6" fill="#2E2B2B" stroke="none" stroke-width="0" />
<line x1="1793.60" y1="315.00" x2="1793.60" y2="318.00" stroke="#2E2B2B" stroke-width="2.2" />
<line x1="1793.60" y1="324.20" x2="1793.60" y2="330.00" stroke="#2E2B2B" stroke-width="2.2" />
<rect x="1765.20" y="318.00" width="56.60" height="6.20" fill="#FFD9D6" stroke="#2E2B2B" stroke-width="2.2" />
<line x1="1765.20" y1="319.80" x2="1821.80" y2="319.80" stroke="#2E2B2B" stroke-width="3.2" />
<circle cx="1793.60" cy="339.70" r="4.6" fill="#2E2B2B" stroke="none" stroke-width="0" />
<line x1="1869.20" y1="313.20" x2="1869.20" y2="316.00" stroke="#2E2B2B" stroke-width="2.2" />
<line x1="1869.20" y1="320.40" x2="1869.20" y2="321.50" stroke="#2E2B2B" stroke-width="2.2" />
<rect x="1841.10" y="316.00" width="56.90" height="4.40" fill="#FF8A8E" stroke="#2E2B2B" stroke-width="2.2" />
<line x1="1841.10" y1="318.20" x2="1898.00" y2="318.20" stroke="#2E2B2B" stroke-width="4.0" />
<circle cx="1869.20" cy="333.20" r="4.6" fill="#2E2B2B" stroke="none" stroke-width="0" />
<line x1="1944.60" y1="163.00" x2="1944.60" y2="166.50" stroke="#2E2B2B" stroke-width="1.9" />
<line x1="1944.60" y1="194.50" x2="1944.60" y2="210.20" stroke="#2E2B2B" stroke-width="1.9" />
<rect x="1916.40" y="166.50" width="56.80" height="28.00" fill="#5B4A6E" stroke="#2E2B2B" stroke-width="1.9" />
<line x1="1916.40" y1="179.00" x2="1973.20" y2="179.00" stroke="#2E2B2B" stroke-width="4.0" />
<circle cx="1716.00" cy="401.50" r="0.8" fill="#555" stroke="none" stroke-width="0" />
<text x="1554.40" y="417.00" font-size="21.5" font-family="'Liberation Sans', Arial, Helvetica, sans-serif" fill="#000" textLength="117.90" lengthAdjust="spacing" >Clindamycin</text>
<text x="1570.40" y="452.80" font-size="21.5" font-family="'Liberation Sans', Arial, Helvetica, sans-serif" fill="#000" font-style="italic" textLength="101.10" lengthAdjust="spacing" >C. difficile</text>
<text x="1544.30" y="485.90" font-size="21.5" font-family="'Liberation Sans', Arial, Helvetica, sans-serif" fill="#000" font-style="italic" textLength="130.90" lengthAdjust="spacing" >B. velezensis</text>
<text x="1543.30" y="513.10" font-size="21.5" font-family="'Liberation Sans', Arial, Helvetica, sans-serif" fill="#000" textLength="116.50" lengthAdjust="spacing" >DSM 33864</text>
<text x="1712.90" y="418.88" font-size="33" font-family="'Liberation Sans', Arial, Helvetica, sans-serif" fill="#000" text-anchor="middle" font-weight="bold" stroke="#000" stroke-width="0.6">-</text>
<text x="1782.30" y="417.63" font-size="33" font-family="'Liberation Sans', Arial, Helvetica, sans-serif" fill="#000" text-anchor="middle" font-weight="bold" stroke="#000" stroke-width="0.45">+</text>
<text x="1866.30" y="417.63" font-size="33" font-family="'Liberation Sans', Arial, Helvetica, sans-serif" fill="#000" text-anchor="middle" font-weight="bold" stroke="#000" stroke-width="0.45">+</text>
<text x="1941.20" y="417.63" font-size="33" font-family="'Liberation Sans', Arial, Helvetica, sans-serif" fill="#000" text-anchor="middle" font-weight="bold" stroke="#000" stroke-width="0.45">+</text>
<text x="1715.10" y="457.97" font-size="33" font-family="'Liberation Sans', Arial, Helvetica, sans-serif" fill="#000" text-anchor="middle" font-weight="bold" stroke="#000" stroke-width="0.6">-</text>
<text x="1781.50" y="457.97" font-size="33" font-family="'Liberation Sans', Arial, Helvetica, sans-serif" fill="#000" text-anchor="middle" font-weight="bold" stroke="#000" stroke-width="0.6">-</text>
<text x="1869.20" y="456.73" font-size="33" font-family="'Liberation Sans', Arial, Helvetica, sans-serif" fill="#000" text-anchor="middle" font-weight="bold" stroke="#000" stroke-width="0.45">+</text>
<text x="1944.10" y="456.73" font-size="33" font-family="'Liberation Sans', Arial, Helvetica, sans-serif" fill="#000" text-anchor="middle" font-weight="bold" stroke="#000" stroke-width="0.45">+</text>
<text x="1715.10" y="499.07" font-size="33" font-family="'Liberation Sans', Arial, Helvetica, sans-serif" fill="#000" text-anchor="middle" font-weight="bold" stroke="#000" stroke-width="0.6">-</text>
<text x="1781.50" y="499.07" font-size="33" font-family="'Liberation Sans', Arial, Helvetica, sans-serif" fill="#000" text-anchor="middle" font-weight="bold" stroke="#000" stroke-width="0.6">-</text>
<text x="1866.30" y="499.07" font-size="33" font-family="'Liberation Sans', Arial, Helvetica, sans-serif" fill="#000" text-anchor="middle" font-weight="bold" stroke="#000" stroke-width="0.6">-</text>
<text x="1945.10" y="497.83" font-size="33" font-family="'Liberation Sans', Arial, Helvetica, sans-serif" fill="#000" text-anchor="middle" font-weight="bold" stroke="#000" stroke-width="0.45">+</text>
<text transform="translate(6.05 591.00) scale(1.13 1.03)" font-size="37.3" font-family="'DejaVu Sans', 'Liberation Sans', sans-serif" fill="#000">f</text>
<text x="72.60" y="592.50" font-size="33" font-family="'Liberation Sans', Arial, Helvetica, sans-serif" fill="#000" textLength="338.30" lengthAdjust="spacing" >Microbiota composition</text>
<clipPath id="cpf3"><rect x="600" y="1100" width="284.6" height="59"/></clipPath>
<line x1="78.55" y1="636.80" x2="78.55" y2="1108.60" stroke="#EFEFEF" stroke-width="1.0" />
<line x1="100.90" y1="636.80" x2="100.90" y2="1108.60" stroke="#EFEFEF" stroke-width="1.7" />
<line x1="100.90" y1="1108.60" x2="100.90" y2="1113.80" stroke="#2E2B2B" stroke-width="1.4" />
<text x="101.20" y="1131.30" font-size="16.5" font-family="'DejaVu Sans', 'Liberation Sans', sans-serif" fill="#454545" text-anchor="middle" letter-spacing="0.8">-50</text>
<line x1="123.25" y1="636.80" x2="123.25" y2="1108.60" stroke="#EFEFEF" stroke-width="1.0" />
<line x1="145.60" y1="636.80" x2="145.60" y2="1108.60" stroke="#EFEFEF" stroke-width="1.7" />
<line x1="145.60" y1="1108.60" x2="145.60" y2="1113.80" stroke="#2E2B2B" stroke-width="1.4" />
<text x="145.90" y="1131.30" font-size="16.5" font-family="'DejaVu Sans', 'Liberation Sans', sans-serif" fill="#454545" text-anchor="middle" letter-spacing="0.8">-45</text>
<line x1="167.95" y1="636.80" x2="167.95" y2="1108.60" stroke="#EFEFEF" stroke-width="1.0" />
<line x1="190.30" y1="636.80" x2="190.30" y2="1108.60" stroke="#EFEFEF" stroke-width="1.7" />
<line x1="190.30" y1="1108.60" x2="190.30" y2="1113.80" stroke="#2E2B2B" stroke-width="1.4" />
<text x="190.60" y="1131.30" font-size="16.5" font-family="'DejaVu Sans', 'Liberation Sans', sans-serif" fill="#454545" text-anchor="middle" letter-spacing="0.8">-40</text>
<line x1="212.65" y1="636.80" x2="212.65" y2="1108.60" stroke="#EFEFEF" stroke-width="1.0" />
<line x1="235.00" y1="636.80" x2="235.00" y2="1108.60" stroke="#EFEFEF" stroke-width="1.7" />
<line x1="235.00" y1="1108.60" x2="235.00" y2="1113.80" stroke="#2E2B2B" stroke-width="1.4" />
<text x="235.30" y="1131.30" font-size="16.5" font-family="'DejaVu Sans', 'Liberation Sans', sans-serif" fill="#454545" text-anchor="middle" letter-spacing="0.8">-35</text>
<line x1="257.35" y1="636.80" x2="257.35" y2="1108.60" stroke="#EFEFEF" stroke-width="1.0" />
<line x1="279.70" y1="636.80" x2="279.70" y2="1108.60" stroke="#EFEFEF" stroke-width="1.7" />
<line x1="279.70" y1="1108.60" x2="279.70" y2="1113.80" stroke="#2E2B2B" stroke-width="1.4" />
<text x="280.00" y="1131.30" font-size="16.5" font-family="'DejaVu Sans', 'Liberation Sans', sans-serif" fill="#454545" text-anchor="middle" letter-spacing="0.8">-30</text>
<line x1="302.05" y1="636.80" x2="302.05" y2="1108.60" stroke="#EFEFEF" stroke-width="1.0" />
<line x1="324.40" y1="636.80" x2="324.40" y2="1108.60" stroke="#EFEFEF" stroke-width="1.7" />
<line x1="324.40" y1="1108.60" x2="324.40" y2="1113.80" stroke="#2E2B2B" stroke-width="1.4" />
<text x="324.70" y="1131.30" font-size="16.5" font-family="'DejaVu Sans', 'Liberation Sans', sans-serif" fill="#454545" text-anchor="middle" letter-spacing="0.8">-25</text>
<line x1="68.30" y1="696.30" x2="331.70" y2="696.30" stroke="#EFEFEF" stroke-width="1.0" />
<line x1="68.30" y1="779.80" x2="331.70" y2="779.80" stroke="#EFEFEF" stroke-width="1.0" />
<line x1="68.30" y1="863.20" x2="331.70" y2="863.20" stroke="#EFEFEF" stroke-width="1.0" />
<line x1="68.30" y1="946.80" x2="331.70" y2="946.80" stroke="#EFEFEF" stroke-width="1.0" />
<line x1="68.30" y1="1029.90" x2="331.70" y2="1029.90" stroke="#EFEFEF" stroke-width="1.0" />
<line x1="68.30" y1="654.30" x2="331.70" y2="654.30" stroke="#EFEFEF" stroke-width="1.7" />
<line x1="68.30" y1="738.00" x2="331.70" y2="738.00" stroke="#EFEFEF" stroke-width="1.7" />
<line x1="68.30" y1="821.30" x2="331.70" y2="821.30" stroke="#EFEFEF" stroke-width="1.7" />
<line x1="68.30" y1="905.00" x2="331.70" y2="905.00" stroke="#EFEFEF" stroke-width="1.7" />
<line x1="68.30" y1="988.60" x2="331.70" y2="988.60" stroke="#EFEFEF" stroke-width="1.7" />
<line x1="68.30" y1="1071.20" x2="331.70" y2="1071.20" stroke="#EFEFEF" stroke-width="1.7" />
<rect x="68.30" y="604.30" width="263.40" height="32.10" fill="#E0DFDF" stroke="none" stroke-width="0" />
<line x1="67.70" y1="637.90" x2="332.30" y2="637.90" stroke="#777" stroke-width="1.7" />
<rect x="68.30" y="604.30" width="263.40" height="32.10" fill="none" stroke="#2B2B2B" stroke-width="1.3" />
<path d="M331.70 637V1108.6H68.30V637" fill="none" stroke="#2B2B2B" stroke-width="1.3" />
<text x="200.00" y="626.80" font-size="17" font-family="'DejaVu Sans', 'Liberation Sans', sans-serif" fill="#1A1A1A" text-anchor="middle" letter-spacing="0.25">T1 (-26 h)</text>
<line x1="353.35" y1="636.80" x2="353.35" y2="1108.60" stroke="#EFEFEF" stroke-width="1.0" />
<line x1="375.70" y1="636.80" x2="375.70" y2="1108.60" stroke="#EFEFEF" stroke-width="1.7" />
<line x1="375.70" y1="1108.60" x2="375.70" y2="1113.80" stroke="#2E2B2B" stroke-width="1.4" />
<text x="376.00" y="1131.30" font-size="16.5" font-family="'DejaVu Sans', 'Liberation Sans', sans-serif" fill="#454545" text-anchor="middle" letter-spacing="0.8">-50</text>
<line x1="398.05" y1="636.80" x2="398.05" y2="1108.60" stroke="#EFEFEF" stroke-width="1.0" />
<line x1="420.40" y1="636.80" x2="420.40" y2="1108.60" stroke="#EFEFEF" stroke-width="1.7" />
<line x1="420.40" y1="1108.60" x2="420.40" y2="1113.80" stroke="#2E2B2B" stroke-width="1.4" />
<text x="420.70" y="1131.30" font-size="16.5" font-family="'DejaVu Sans', 'Liberation Sans', sans-serif" fill="#454545" text-anchor="middle" letter-spacing="0.8">-45</text>
<line x1="442.75" y1="636.80" x2="442.75" y2="1108.60" stroke="#EFEFEF" stroke-width="1.0" />
<line x1="465.10" y1="636.80" x2="465.10" y2="1108.60" stroke="#EFEFEF" stroke-width="1.7" />
<line x1="465.10" y1="1108.60" x2="465.10" y2="1113.80" stroke="#2E2B2B" stroke-width="1.4" />
<text x="465.40" y="1131.30" font-size="16.5" font-family="'DejaVu Sans', 'Liberation Sans', sans-serif" fill="#454545" text-anchor="middle" letter-spacing="0.8">-40</text>
<line x1="487.45" y1="636.80" x2="487.45" y2="1108.60" stroke="#EFEFEF" stroke-width="1.0" />
<line x1="509.80" y1="636.80" x2="509.80" y2="1108.60" stroke="#EFEFEF" stroke-width="1.7" />
<line x1="509.80" y1="1108.60" x2="509.80" y2="1113.80" stroke="#2E2B2B" stroke-width="1.4" />
<text x="510.10" y="1131.30" font-size="16.5" font-family="'DejaVu Sans', 'Liberation Sans', sans-serif" fill="#454545" text-anchor="middle" letter-spacing="0.8">-35</text>
<line x1="532.15" y1="636.80" x2="532.15" y2="1108.60" stroke="#EFEFEF" stroke-width="1.0" />
<line x1="554.50" y1="636.80" x2="554.50" y2="1108.60" stroke="#EFEFEF" stroke-width="1.7" />
<line x1="554.50" y1="1108.60" x2="554.50" y2="1113.80" stroke="#2E2B2B" stroke-width="1.4" />
<text x="554.80" y="1131.30" font-size="16.5" font-family="'DejaVu Sans', 'Liberation Sans', sans-serif" fill="#454545" text-anchor="middle" letter-spacing="0.8">-30</text>
<line x1="576.85" y1="636.80" x2="576.85" y2="1108.60" stroke="#EFEFEF" stroke-width="1.0" />
<line x1="599.20" y1="636.80" x2="599.20" y2="1108.60" stroke="#EFEFEF" stroke-width="1.7" />
<line x1="599.20" y1="1108.60" x2="599.20" y2="1113.80" stroke="#2E2B2B" stroke-width="1.4" />
<text x="599.50" y="1131.30" font-size="16.5" font-family="'DejaVu Sans', 'Liberation Sans', sans-serif" fill="#454545" text-anchor="middle" letter-spacing="0.8">-25</text>
<line x1="343.10" y1="696.30" x2="605.60" y2="696.30" stroke="#EFEFEF" stroke-width="1.0" />
<line x1="343.10" y1="779.80" x2="605.60" y2="779.80" stroke="#EFEFEF" stroke-width="1.0" />
<line x1="343.10" y1="863.20" x2="605.60" y2="863.20" stroke="#EFEFEF" stroke-width="1.0" />
<line x1="343.10" y1="946.80" x2="605.60" y2="946.80" stroke="#EFEFEF" stroke-width="1.0" />
<line x1="343.10" y1="1029.90" x2="605.60" y2="1029.90" stroke="#EFEFEF" stroke-width="1.0" />
<line x1="343.10" y1="654.30" x2="605.60" y2="654.30" stroke="#EFEFEF" stroke-width="1.7" />
<line x1="343.10" y1="738.00" x2="605.60" y2="738.00" stroke="#EFEFEF" stroke-width="1.7" />
<line x1="343.10" y1="821.30" x2="605.60" y2="821.30" stroke="#EFEFEF" stroke-width="1.7" />
<line x1="343.10" y1="905.00" x2="605.60" y2="905.00" stroke="#EFEFEF" stroke-width="1.7" />
<line x1="343.10" y1="988.60" x2="605.60" y2="988.60" stroke="#EFEFEF" stroke-width="1.7" />
<line x1="343.10" y1="1071.20" x2="605.60" y2="1071.20" stroke="#EFEFEF" stroke-width="1.7" />
<rect x="343.10" y="604.30" width="262.50" height="32.10" fill="#E0DFDF" stroke="none" stroke-width="0" />
<line x1="342.50" y1="637.90" x2="606.20" y2="637.90" stroke="#777" stroke-width="1.7" />
<rect x="343.10" y="604.30" width="262.50" height="32.10" fill="none" stroke="#2B2B2B" stroke-width="1.3" />
<path d="M605.60 637V1022.8M606.50 1022.8V1108.6H343.10V637" fill="none" stroke="#2B2B2B" stroke-width="1.3" />
<text x="474.35" y="626.80" font-size="17" font-family="'DejaVu Sans', 'Liberation Sans', sans-serif" fill="#1A1A1A" text-anchor="middle" letter-spacing="0.25">T2 (-21 h)</text>
<line x1="628.55" y1="636.80" x2="628.55" y2="1108.60" stroke="#EFEFEF" stroke-width="1.0" />
<line x1="650.90" y1="636.80" x2="650.90" y2="1108.60" stroke="#EFEFEF" stroke-width="1.7" />
<line x1="650.90" y1="1108.60" x2="650.90" y2="1113.80" stroke="#2E2B2B" stroke-width="1.4" />
<text x="651.20" y="1131.30" font-size="16.5" font-family="'DejaVu Sans', 'Liberation Sans', sans-serif" fill="#454545" text-anchor="middle" letter-spacing="0.8" clip-path="url(#cpf3)">-50</text>
<line x1="673.25" y1="636.80" x2="673.25" y2="1108.60" stroke="#EFEFEF" stroke-width="1.0" />
<line x1="695.60" y1="636.80" x2="695.60" y2="1108.60" stroke="#EFEFEF" stroke-width="1.7" />
<line x1="695.60" y1="1108.60" x2="695.60" y2="1113.80" stroke="#2E2B2B" stroke-width="1.4" />
<text x="695.90" y="1131.30" font-size="16.5" font-family="'DejaVu Sans', 'Liberation Sans', sans-serif" fill="#454545" text-anchor="middle" letter-spacing="0.8" clip-path="url(#cpf3)">-45</text>
<line x1="717.95" y1="636.80" x2="717.95" y2="1108.60" stroke="#EFEFEF" stroke-width="1.0" />
<line x1="740.30" y1="636.80" x2="740.30" y2="1108.60" stroke="#EFEFEF" stroke-width="1.7" />
<line x1="740.30" y1="1108.60" x2="740.30" y2="1113.80" stroke="#2E2B2B" stroke-width="1.4" />
<text x="740.60" y="1131.30" font-size="16.5" font-family="'DejaVu Sans', 'Liberation Sans', sans-serif" fill="#454545" text-anchor="middle" letter-spacing="0.8" clip-path="url(#cpf3)">-40</text>
<line x1="762.65" y1="636.80" x2="762.65" y2="1108.60" stroke="#EFEFEF" stroke-width="1.0" />
<line x1="785.00" y1="636.80" x2="785.00" y2="1108.60" stroke="#EFEFEF" stroke-width="1.7" />
<line x1="785.00" y1="1108.60" x2="785.00" y2="1113.80" stroke="#2E2B2B" stroke-width="1.4" />
<text x="785.30" y="1131.30" font-size="16.5" font-family="'DejaVu Sans', 'Liberation Sans', sans-serif" fill="#454545" text-anchor="middle" letter-spacing="0.8" clip-path="url(#cpf3)">-35</text>
<line x1="807.35" y1="636.80" x2="807.35" y2="1108.60" stroke="#EFEFEF" stroke-width="1.0" />
<line x1="829.70" y1="636.80" x2="829.70" y2="1108.60" stroke="#EFEFEF" stroke-width="1.7" />
<line x1="829.70" y1="1108.60" x2="829.70" y2="1113.80" stroke="#2E2B2B" stroke-width="1.4" />
<text x="830.00" y="1131.30" font-size="16.5" font-family="'DejaVu Sans', 'Liberation Sans', sans-serif" fill="#454545" text-anchor="middle" letter-spacing="0.8" clip-path="url(#cpf3)">-30</text>
<line x1="852.05" y1="636.80" x2="852.05" y2="1108.60" stroke="#EFEFEF" stroke-width="1.0" />
<line x1="874.40" y1="636.80" x2="874.40" y2="1108.60" stroke="#EFEFEF" stroke-width="1.7" />
<line x1="874.40" y1="1108.60" x2="874.40" y2="1113.80" stroke="#2E2B2B" stroke-width="1.4" />
<text x="874.70" y="1131.30" font-size="16.5" font-family="'DejaVu Sans', 'Liberation Sans', sans-serif" fill="#454545" text-anchor="middle" letter-spacing="0.8" clip-path="url(#cpf3)">-25</text>
<line x1="618.30" y1="696.30" x2="881.30" y2="696.30" stroke="#EFEFEF" stroke-width="1.0" />
<line x1="618.30" y1="779.80" x2="881.30" y2="779.80" stroke="#EFEFEF" stroke-width="1.0" />
<line x1="618.30" y1="863.20" x2="881.30" y2="863.20" stroke="#EFEFEF" stroke-width="1.0" />
<line x1="618.30" y1="946.80" x2="881.30" y2="946.80" stroke="#EFEFEF" stroke-width="1.0" />
<line x1="618.30" y1="1029.90" x2="881.30" y2="1029.90" stroke="#EFEFEF" stroke-width="1.0" />
<line x1="618.30" y1="654.30" x2="881.30" y2="654.30" stroke="#EFEFEF" stroke-width="1.7" />
<line x1="618.30" y1="738.00" x2="881.30" y2="738.00" stroke="#EFEFEF" stroke-width="1.7" />
<line x1="618.30" y1="821.30" x2="881.30" y2="821.30" stroke="#EFEFEF" stroke-width="1.7" />
<line x1="618.30" y1="905.00" x2="881.30" y2="905.00" stroke="#EFEFEF" stroke-width="1.7" />
<line x1="618.30" y1="988.60" x2="881.30" y2="988.60" stroke="#EFEFEF" stroke-width="1.7" />
<line x1="618.30" y1="1071.20" x2="881.30" y2="1071.20" stroke="#EFEFEF" stroke-width="1.7" />
<rect x="618.30" y="604.30" width="263.00" height="32.10" fill="#E0DFDF" stroke="none" stroke-width="0" />
<line x1="617.70" y1="637.90" x2="881.90" y2="637.90" stroke="#777" stroke-width="1.7" />
<line x1="618.30" y1="604.30" x2="618.30" y2="1022.80" stroke="#EFEFEF" stroke-width="1.2" />
<path d="M618.30 604.3H881.30V636.4H618.30" fill="none" stroke="#2B2B2B" stroke-width="1.3" />
<path d="M618.30 1022.8V1108.6H881.30V637" fill="none" stroke="#2B2B2B" stroke-width="1.3" />
<text x="749.80" y="626.80" font-size="17" font-family="'DejaVu Sans', 'Liberation Sans', sans-serif" fill="#1A1A1A" text-anchor="middle" letter-spacing="0.25">T3 (-1 h)</text>
<line x1="903.15" y1="636.80" x2="903.15" y2="1108.60" stroke="#EFEFEF" stroke-width="1.0" />
<line x1="925.50" y1="636.80" x2="925.50" y2="1108.60" stroke="#EFEFEF" stroke-width="1.7" />
<line x1="925.50" y1="1108.60" x2="925.50" y2="1113.80" stroke="#2E2B2B" stroke-width="1.4" />
<text x="925.80" y="1131.30" font-size="16.5" font-family="'DejaVu Sans', 'Liberation Sans', sans-serif" fill="#454545" text-anchor="middle" letter-spacing="0.8">-50</text>
<line x1="947.85" y1="636.80" x2="947.85" y2="1108.60" stroke="#EFEFEF" stroke-width="1.0" />
<line x1="970.20" y1="636.80" x2="970.20" y2="1108.60" stroke="#EFEFEF" stroke-width="1.7" />
<line x1="970.20" y1="1108.60" x2="970.20" y2="1113.80" stroke="#2E2B2B" stroke-width="1.4" />
<text x="970.50" y="1131.30" font-size="16.5" font-family="'DejaVu Sans', 'Liberation Sans', sans-serif" fill="#454545" text-anchor="middle" letter-spacing="0.8">-45</text>
<line x1="992.55" y1="636.80" x2="992.55" y2="1108.60" stroke="#EFEFEF" stroke-width="1.0" />
<line x1="1014.90" y1="636.80" x2="1014.90" y2="1108.60" stroke="#EFEFEF" stroke-width="1.7" />
<line x1="1014.90" y1="1108.60" x2="1014.90" y2="1113.80" stroke="#2E2B2B" stroke-width="1.4" />
<text x="1015.20" y="1131.30" font-size="16.5" font-family="'DejaVu Sans', 'Liberation Sans', sans-serif" fill="#454545" text-anchor="middle" letter-spacing="0.8">-40</text>
<line x1="1037.25" y1="636.80" x2="1037.25" y2="1108.60" stroke="#EFEFEF" stroke-width="1.0" />
<line x1="1059.60" y1="636.80" x2="1059.60" y2="1108.60" stroke="#EFEFEF" stroke-width="1.7" />
<line x1="1059.60" y1="1108.60" x2="1059.60" y2="1113.80" stroke="#2E2B2B" stroke-width="1.4" />
<text x="1059.90" y="1131.30" font-size="16.5" font-family="'DejaVu Sans', 'Liberation Sans', sans-serif" fill="#454545" text-anchor="middle" letter-spacing="0.8">-35</text>
<line x1="1081.95" y1="636.80" x2="1081.95" y2="1108.60" stroke="#EFEFEF" stroke-width="1.0" />
<line x1="1104.30" y1="636.80" x2="1104.30" y2="1108.60" stroke="#EFEFEF" stroke-width="1.7" />
<line x1="1104.30" y1="1108.60" x2="1104.30" y2="1113.80" stroke="#2E2B2B" stroke-width="1.4" />
<text x="1104.60" y="1131.30" font-size="16.5" font-family="'DejaVu Sans', 'Liberation Sans', sans-serif" fill="#454545" text-anchor="middle" letter-spacing="0.8">-30</text>
<line x1="1126.65" y1="636.80" x2="1126.65" y2="1108.60" stroke="#EFEFEF" stroke-width="1.0" />
<line x1="1149.00" y1="636.80" x2="1149.00" y2="1108.60" stroke="#EFEFEF" stroke-width="1.7" />
<line x1="1149.00" y1="1108.60" x2="1149.00" y2="1113.80" stroke="#2E2B2B" stroke-width="1.4" />
<text x="1149.30" y="1131.30" font-size="16.5" font-family="'DejaVu Sans', 'Liberation Sans', sans-serif" fill="#454545" text-anchor="middle" letter-spacing="0.8">-25</text>
<line x1="892.90" y1="696.30" x2="1155.70" y2="696.30" stroke="#EFEFEF" stroke-width="1.0" />
<line x1="892.90" y1="779.80" x2="1155.70" y2="779.80" stroke="#EFEFEF" stroke-width="1.0" />
<line x1="892.90" y1="863.20" x2="1155.70" y2="863.20" stroke="#EFEFEF" stroke-width="1.0" />
<line x1="892.90" y1="946.80" x2="1155.70" y2="946.80" stroke="#EFEFEF" stroke-width="1.0" />
<line x1="892.90" y1="1029.90" x2="1155.70" y2="1029.90" stroke="#EFEFEF" stroke-width="1.0" />
<line x1="892.90" y1="654.30" x2="1155.70" y2="654.30" stroke="#EFEFEF" stroke-width="1.7" />
<line x1="892.90" y1="738.00" x2="1155.70" y2="738.00" stroke="#EFEFEF" stroke-width="1.7" />
<line x1="892.90" y1="821.30" x2="1155.70" y2="821.30" stroke="#EFEFEF" stroke-width="1.7" />
<line x1="892.90" y1="905.00" x2="1155.70" y2="905.00" stroke="#EFEFEF" stroke-width="1.7" />
<line x1="892.90" y1="988.60" x2="1155.70" y2="988.60" stroke="#EFEFEF" stroke-width="1.7" />
<line x1="892.90" y1="1071.20" x2="1155.70" y2="1071.20" stroke="#EFEFEF" stroke-width="1.7" />
<rect x="892.90" y="604.30" width="262.80" height="32.10" fill="#E0DFDF" stroke="none" stroke-width="0" />
<line x1="892.30" y1="637.90" x2="1156.30" y2="637.90" stroke="#777" stroke-width="1.7" />
<rect x="892.90" y="604.30" width="262.80" height="32.10" fill="none" stroke="#2B2B2B" stroke-width="1.3" />
<path d="M1155.70 637V1108.6H892.90V637" fill="none" stroke="#2B2B2B" stroke-width="1.3" />
<text x="1024.30" y="626.80" font-size="17" font-family="'DejaVu Sans', 'Liberation Sans', sans-serif" fill="#1A1A1A" text-anchor="middle" letter-spacing="0.25">T4 (22 h)</text>
<line x1="63.30" y1="654.30" x2="68.30" y2="654.30" stroke="#2E2B2B" stroke-width="1.4" />
<text x="58.30" y="660.50" font-size="16.5" font-family="'DejaVu Sans', 'Liberation Sans', sans-serif" fill="#454545" text-anchor="end" letter-spacing="0.8">30</text>
<line x1="63.30" y1="738.00" x2="68.30" y2="738.00" stroke="#2E2B2B" stroke-width="1.4" />
<text x="58.30" y="744.20" font-size="16.5" font-family="'DejaVu Sans', 'Liberation Sans', sans-serif" fill="#454545" text-anchor="end" letter-spacing="0.8">20</text>
<line x1="63.30" y1="821.30" x2="68.30" y2="821.30" stroke="#2E2B2B" stroke-width="1.4" />
<text x="58.30" y="827.50" font-size="16.5" font-family="'DejaVu Sans', 'Liberation Sans', sans-serif" fill="#454545" text-anchor="end" letter-spacing="0.8">10</text>
<line x1="63.30" y1="905.00" x2="68.30" y2="905.00" stroke="#2E2B2B" stroke-width="1.4" />
<text x="58.30" y="911.20" font-size="16.5" font-family="'DejaVu Sans', 'Liberation Sans', sans-serif" fill="#454545" text-anchor="end" letter-spacing="0.8">0</text>
<line x1="63.30" y1="988.60" x2="68.30" y2="988.60" stroke="#2E2B2B" stroke-width="1.4" />
<text x="58.30" y="994.80" font-size="16.5" font-family="'DejaVu Sans', 'Liberation Sans', sans-serif" fill="#454545" text-anchor="end" letter-spacing="0.8">-10</text>
<line x1="63.30" y1="1071.20" x2="68.30" y2="1071.20" stroke="#2E2B2B" stroke-width="1.4" />
<text x="58.30" y="1077.40" font-size="16.5" font-family="'DejaVu Sans', 'Liberation Sans', sans-serif" fill="#454545" text-anchor="end" letter-spacing="0.8">-20</text>
<text x="17.80" y="871.50" font-size="21" font-family="'DejaVu Sans', 'Liberation Sans', sans-serif" fill="#000" text-anchor="middle" textLength="130.00" lengthAdjust="spacing" transform="rotate(-90 17.80 871.50)" >PC 2 (8.4%)</text>
<text x="612.50" y="1156.00" font-size="21" font-family="'DejaVu Sans', 'Liberation Sans', sans-serif" fill="#000" text-anchor="middle" textLength="143.50" lengthAdjust="spacing" >PC 1 (71.7%)</text>
<circle cx="154.22" cy="907.63" r="6.8" fill="#7AB597" stroke="none" stroke-width="0" fill-opacity="0.42"/>
<circle cx="151.12" cy="937.66" r="6.8" fill="#7AB597" stroke="none" stroke-width="0" fill-opacity="0.42"/>
<circle cx="152.15" cy="954.22" r="6.8" fill="#7AB597" stroke="none" stroke-width="0" fill-opacity="0.42"/>
<circle cx="165.61" cy="955.26" r="6.8" fill="#7AB597" stroke="none" stroke-width="0" fill-opacity="0.42"/>
<circle cx="140.35" cy="970.79" r="6.8" fill="#7AB597" stroke="none" stroke-width="0" fill-opacity="0.42"/>
<circle cx="157.95" cy="969.13" r="6.8" fill="#7AB597" stroke="none" stroke-width="0" fill-opacity="0.42"/>
<circle cx="154.64" cy="1009.51" r="6.8" fill="#7AB597" stroke="none" stroke-width="0" fill-opacity="0.42"/>
<circle cx="119.02" cy="1022.97" r="6.8" fill="#7AB597" stroke="none" stroke-width="0" fill-opacity="0.42"/>
<circle cx="127.30" cy="1029.39" r="6.8" fill="#7AB597" stroke="none" stroke-width="0" fill-opacity="0.42"/>
<circle cx="140.35" cy="1030.84" r="6.8" fill="#7AB597" stroke="none" stroke-width="0" fill-opacity="0.42"/>
<rect x="136.87" y="924.44" width="14.00" height="14.00" fill="#FF8A8E" stroke="none" stroke-width="0" fill-opacity="0.42"/>
<rect x="160.68" y="926.51" width="14.00" height="14.00" fill="#FF8A8E" stroke="none" stroke-width="0" fill-opacity="0.42"/>
<rect x="142.05" y="954.47" width="14.00" height="14.00" fill="#FF8A8E" stroke="none" stroke-width="0" fill-opacity="0.42"/>
<rect x="124.44" y="983.46" width="14.00" height="14.00" fill="#FF8A8E" stroke="none" stroke-width="0" fill-opacity="0.42"/>
<rect x="162.75" y="988.64" width="14.00" height="14.00" fill="#FF8A8E" stroke="none" stroke-width="0" fill-opacity="0.42"/>
<rect x="129.62" y="1006.24" width="14.00" height="14.00" fill="#FF8A8E" stroke="none" stroke-width="0" fill-opacity="0.42"/>
<rect x="125.48" y="1014.52" width="14.00" height="14.00" fill="#FF8A8E" stroke="none" stroke-width="0" fill-opacity="0.42"/>
<rect x="151.99" y="1013.49" width="14.00" height="14.00" fill="#FF8A8E" stroke="none" stroke-width="0" fill-opacity="0.42"/>
<rect x="126.51" y="1019.70" width="14.00" height="14.00" fill="#FF8A8E" stroke="none" stroke-width="0" fill-opacity="0.42"/>
<path d="M178.0 919.3L185.0 926.3L178.0 933.3L171.0 926.3Z" fill="#FFD9D6" stroke="none" stroke-width="0" fill-opacity="0.6"/>
<path d="M155.3 956.5L162.3 963.5L155.3 970.5L148.3 963.5Z" fill="#FFD9D6" stroke="none" stroke-width="0" fill-opacity="0.6"/>
<path d="M167.7 975.2L174.7 982.2L167.7 989.2L160.7 982.2Z" fill="#FFD9D6" stroke="none" stroke-width="0" fill-opacity="0.6"/>
<path d="M129.4 1005.2L136.4 1012.2L129.4 1019.2L122.4 1012.2Z" fill="#FFD9D6" stroke="none" stroke-width="0" fill-opacity="0.6"/>
<path d="M142.8 914.6L152.1 930.4L133.5 930.4Z" fill="#5B4A6E" stroke="none" stroke-width="0" fill-opacity="0.43"/>
<path d="M156.7 915.6L166.0 931.4L147.4 931.4Z" fill="#5B4A6E" stroke="none" stroke-width="0" fill-opacity="0.43"/>
<path d="M171.8 907.3L181.1 923.1L162.5 923.1Z" fill="#5B4A6E" stroke="none" stroke-width="0" fill-opacity="0.43"/>
<path d="M184.2 910.5L193.5 926.3L174.9 926.3Z" fill="#5B4A6E" stroke="none" stroke-width="0" fill-opacity="0.43"/>
<path d="M152.2 921.8L161.5 937.6L142.9 937.6Z" fill="#5B4A6E" stroke="none" stroke-width="0" fill-opacity="0.43"/>
<path d="M159.4 931.2L168.7 947.0L150.1 947.0Z" fill="#5B4A6E" stroke="none" stroke-width="0" fill-opacity="0.43"/>
<path d="M149.0 933.2L158.3 949.0L139.7 949.0Z" fill="#5B4A6E" stroke="none" stroke-width="0" fill-opacity="0.43"/>
<path d="M172.9 940.5L182.2 956.3L163.6 956.3Z" fill="#5B4A6E" stroke="none" stroke-width="0" fill-opacity="0.43"/>
<path d="M166.6 943.6L175.9 959.4L157.3 959.4Z" fill="#5B4A6E" stroke="none" stroke-width="0" fill-opacity="0.43"/>
<path d="M143.5 985.4L152.8 1001.2L134.2 1001.2Z" fill="#5B4A6E" stroke="none" stroke-width="0" fill-opacity="0.43"/>
<path d="M196.7 897.1L196.5 899.9L196.0 903.1L195.3 906.9L194.2 911.0L192.8 915.7L191.2 920.6L189.2 926.0L187.0 931.6L184.6 937.6L182.0 943.7L179.1 950.0L176.1 956.4L172.9 962.9L169.6 969.5L166.1 976.0L162.6 982.4L159.1 988.7L155.5 994.8L151.9 1000.8L148.3 1006.4L144.8 1011.8L141.4 1016.8L138.0 1021.4L134.9 1025.6L131.8 1029.4L129.0 1032.7L126.3 1035.4L123.9 1037.7L121.7 1039.4L119.8 1040.5L118.1 1041.1L116.7 1041.1L115.7 1040.6L114.9 1039.5L114.4 1037.8L114.3 1035.6L114.4 1032.8L114.9 1029.6L115.7 1025.8L116.7 1021.6L118.1 1017.0L119.8 1012.0L121.7 1006.7L123.9 1001.0L126.3 995.1L129.0 989.0L131.8 982.7L134.9 976.3L138.0 969.7L141.4 963.2L144.8 956.7L148.3 950.3L151.9 944.0L155.5 937.8L159.1 931.9L162.6 926.2L166.1 920.9L169.6 915.9L172.9 911.2L176.1 907.0L179.1 903.3L182.0 900.0L184.6 897.2L187.0 895.0L189.2 893.3L191.2 892.1L192.8 891.6L194.2 891.5L195.3 892.1L196.0 893.2L196.5 894.9Z" fill="none" stroke="#FFD9D6" stroke-width="1.8" />
<path d="M183.6 937.7L183.5 945.9L183.1 954.3L182.4 963.0L181.5 971.7L180.3 980.6L178.8 989.5L177.1 998.4L175.2 1007.1L173.1 1015.6L170.8 1023.9L168.3 1031.9L165.7 1039.5L162.9 1046.7L160.0 1053.3L157.0 1059.5L153.9 1065.0L150.8 1070.0L147.7 1074.2L144.6 1077.8L141.5 1080.7L138.4 1082.8L135.4 1084.1L132.5 1084.7L129.7 1084.5L127.1 1083.5L124.6 1081.7L122.3 1079.2L120.2 1076.0L118.3 1072.0L116.6 1067.4L115.1 1062.1L113.9 1056.3L113.0 1049.8L112.3 1042.9L111.9 1035.5L111.8 1027.7L111.9 1019.5L112.3 1011.1L113.0 1002.4L113.9 993.6L115.1 984.8L116.6 975.9L118.3 967.0L120.2 958.3L122.3 949.8L124.6 941.5L127.1 933.5L129.7 925.9L132.5 918.7L135.4 912.1L138.4 905.9L141.5 900.4L144.6 895.4L147.7 891.2L150.8 887.6L153.9 884.7L157.0 882.6L160.0 881.3L162.9 880.7L165.7 880.9L168.3 881.9L170.8 883.7L173.1 886.2L175.2 889.4L177.1 893.4L178.8 898.0L180.3 903.3L181.5 909.1L182.4 915.6L183.1 922.5L183.5 929.9Z" fill="none" stroke="#FF8A8E" stroke-width="1.8" />
<path d="M183.8 901.1L183.7 908.6L183.3 916.6L182.6 925.0L181.6 933.9L180.4 943.0L178.9 952.4L177.2 962.0L175.3 971.6L173.1 981.3L170.8 991.0L168.2 1000.6L165.6 1009.9L162.7 1019.0L159.8 1027.8L156.7 1036.2L153.6 1044.1L150.5 1051.5L147.3 1058.4L144.1 1064.6L140.9 1070.1L137.8 1074.9L134.8 1078.9L131.8 1082.2L129.0 1084.7L126.3 1086.3L123.8 1087.1L121.4 1087.0L119.3 1086.1L117.3 1084.4L115.6 1081.8L114.2 1078.5L112.9 1074.3L112.0 1069.4L111.3 1063.8L110.9 1057.5L110.7 1050.6L110.9 1043.1L111.3 1035.1L112.0 1026.7L112.9 1017.9L114.2 1008.7L115.6 999.3L117.3 989.8L119.3 980.1L121.4 970.4L123.8 960.7L126.3 951.2L129.0 941.8L131.8 932.7L134.8 923.9L137.8 915.5L140.9 907.6L144.1 900.2L147.3 893.4L150.5 887.2L153.6 881.6L156.7 876.8L159.8 872.8L162.7 869.5L165.6 867.1L168.2 865.4L170.8 864.6L173.1 864.7L175.3 865.6L177.2 867.3L178.9 869.9L180.4 873.3L181.6 877.4L182.6 882.3L183.3 887.9L183.7 894.2Z" fill="none" stroke="#7AB597" stroke-width="1.8" />
<path d="M195.6 923.6L195.5 927.9L195.1 932.2L194.4 936.5L193.5 940.9L192.3 945.2L190.9 949.5L189.3 953.6L187.4 957.6L185.3 961.5L183.1 965.2L180.6 968.7L178.0 971.9L175.3 974.9L172.5 977.5L169.5 979.9L166.5 981.9L163.5 983.6L160.4 985.0L157.4 985.9L154.3 986.5L151.3 986.7L148.4 986.6L145.6 986.0L142.8 985.1L140.2 983.8L137.8 982.2L135.5 980.2L133.5 977.9L131.6 975.3L129.9 972.3L128.5 969.1L127.4 965.7L126.4 962.0L125.8 958.2L125.4 954.2L125.2 950.0L125.4 945.8L125.8 941.5L126.4 937.1L127.4 932.8L128.5 928.5L129.9 924.2L131.6 920.0L133.5 916.0L135.5 912.1L137.8 908.5L140.2 905.0L142.8 901.8L145.6 898.8L148.4 896.1L151.3 893.8L154.3 891.7L157.4 890.0L160.4 888.7L163.5 887.7L166.5 887.1L169.5 886.9L172.5 887.1L175.3 887.6L178.0 888.5L180.6 889.8L183.1 891.5L185.3 893.5L187.4 895.8L189.3 898.4L190.9 901.3L192.3 904.5L193.5 908.0L194.4 911.6L195.1 915.5L195.5 919.5Z" fill="none" stroke="#3E2E5C" stroke-width="1.8" />
<circle cx="417.66" cy="933.51" r="6.8" fill="#7AB597" stroke="none" stroke-width="0" fill-opacity="0.42"/>
<circle cx="411.44" cy="939.73" r="6.8" fill="#7AB597" stroke="none" stroke-width="0" fill-opacity="0.42"/>
<circle cx="427.60" cy="948.01" r="6.8" fill="#7AB597" stroke="none" stroke-width="0" fill-opacity="0.42"/>
<circle cx="440.02" cy="961.47" r="6.8" fill="#7AB597" stroke="none" stroke-width="0" fill-opacity="0.42"/>
<circle cx="400.05" cy="979.07" r="6.8" fill="#7AB597" stroke="none" stroke-width="0" fill-opacity="0.42"/>
<circle cx="390.32" cy="994.60" r="6.8" fill="#7AB597" stroke="none" stroke-width="0" fill-opacity="0.42"/>
<circle cx="407.30" cy="992.53" r="6.8" fill="#7AB597" stroke="none" stroke-width="0" fill-opacity="0.42"/>
<circle cx="421.80" cy="992.53" r="6.8" fill="#7AB597" stroke="none" stroke-width="0" fill-opacity="0.42"/>
<circle cx="435.26" cy="982.18" r="6.8" fill="#7AB597" stroke="none" stroke-width="0" fill-opacity="0.42"/>
<rect x="414.80" y="930.66" width="14.00" height="14.00" fill="#FF8A8E" stroke="none" stroke-width="0" fill-opacity="0.42"/>
<rect x="432.40" y="941.63" width="14.00" height="14.00" fill="#FF8A8E" stroke="none" stroke-width="0" fill-opacity="0.42"/>
<rect x="424.12" y="951.99" width="14.00" height="14.00" fill="#FF8A8E" stroke="none" stroke-width="0" fill-opacity="0.42"/>
<rect x="422.05" y="964.82" width="14.00" height="14.00" fill="#FF8A8E" stroke="none" stroke-width="0" fill-opacity="0.42"/>
<rect x="405.48" y="973.11" width="14.00" height="14.00" fill="#FF8A8E" stroke="none" stroke-width="0" fill-opacity="0.42"/>
<rect x="427.22" y="981.39" width="14.00" height="14.00" fill="#FF8A8E" stroke="none" stroke-width="0" fill-opacity="0.42"/>
<rect x="475.89" y="1000.65" width="14.00" height="14.00" fill="#FF8A8E" stroke="none" stroke-width="0" fill-opacity="0.42"/>
<rect x="430.33" y="975.18" width="14.00" height="14.00" fill="#FF8A8E" stroke="none" stroke-width="0" fill-opacity="0.42"/>
<path d="M464.2 940.0L471.2 947.0L464.2 954.0L457.2 947.0Z" fill="#FFD9D6" stroke="none" stroke-width="0" fill-opacity="0.6"/>
<path d="M417.7 949.3L424.7 956.3L417.7 963.3L410.7 956.3Z" fill="#FFD9D6" stroke="none" stroke-width="0" fill-opacity="0.6"/>
<path d="M439.4 972.1L446.4 979.1L439.4 986.1L432.4 979.1Z" fill="#FFD9D6" stroke="none" stroke-width="0" fill-opacity="0.6"/>
<path d="M422.8 960.7L429.8 967.7L422.8 974.7L415.8 967.7Z" fill="#FFD9D6" stroke="none" stroke-width="0" fill-opacity="0.6"/>
<path d="M452.9 940.5L462.2 956.3L443.6 956.3Z" fill="#5B4A6E" stroke="none" stroke-width="0" fill-opacity="0.43"/>
<path d="M422.8 966.4L432.1 982.2L413.5 982.2Z" fill="#5B4A6E" stroke="none" stroke-width="0" fill-opacity="0.43"/>
<path d="M434.2 971.5L443.5 987.3L424.9 987.3Z" fill="#5B4A6E" stroke="none" stroke-width="0" fill-opacity="0.43"/>
<path d="M417.7 974.6L427.0 990.4L408.4 990.4Z" fill="#5B4A6E" stroke="none" stroke-width="0" fill-opacity="0.43"/>
<path d="M411.4 977.8L420.7 993.6L402.1 993.6Z" fill="#5B4A6E" stroke="none" stroke-width="0" fill-opacity="0.43"/>
<path d="M457.0 970.5L466.3 986.3L447.7 986.3Z" fill="#5B4A6E" stroke="none" stroke-width="0" fill-opacity="0.43"/>
<path d="M439.4 979.8L448.7 995.6L430.1 995.6Z" fill="#5B4A6E" stroke="none" stroke-width="0" fill-opacity="0.43"/>
<path d="M458.0 987.1L467.3 1002.9L448.7 1002.9Z" fill="#5B4A6E" stroke="none" stroke-width="0" fill-opacity="0.43"/>
<path d="M420.8 988.1L430.1 1003.9L411.5 1003.9Z" fill="#5B4A6E" stroke="none" stroke-width="0" fill-opacity="0.43"/>
<path d="M441.5 988.1L450.8 1003.9L432.2 1003.9Z" fill="#5B4A6E" stroke="none" stroke-width="0" fill-opacity="0.43"/>
<path d="M436.3 1002.6L445.6 1018.4L427.0 1018.4Z" fill="#5B4A6E" stroke="none" stroke-width="0" fill-opacity="0.43"/>
<path d="M453.9 977.6L453.8 980.3L453.5 983.0L453.1 985.5L452.4 987.9L451.6 990.2L450.6 992.3L449.4 994.2L448.1 995.9L446.7 997.5L445.1 998.8L443.4 999.9L441.6 1000.7L439.7 1001.4L437.7 1001.7L435.6 1001.9L433.5 1001.7L431.4 1001.3L429.3 1000.7L427.1 999.9L425.0 998.8L422.9 997.4L420.8 995.9L418.8 994.1L416.9 992.2L415.1 990.1L413.4 987.8L411.8 985.4L410.4 982.8L409.1 980.2L407.9 977.5L406.9 974.7L406.1 971.8L405.4 969.0L405.0 966.1L404.7 963.3L404.6 960.5L404.7 957.7L405.0 955.1L405.4 952.6L406.1 950.2L406.9 947.9L407.9 945.8L409.1 943.8L410.4 942.1L411.8 940.6L413.4 939.3L415.1 938.2L416.9 937.3L418.8 936.7L420.8 936.3L422.9 936.2L425.0 936.3L427.1 936.7L429.3 937.3L431.4 938.2L433.5 939.3L435.6 940.6L437.7 942.2L439.7 943.9L441.6 945.9L443.4 948.0L445.1 950.2L446.7 952.7L448.1 955.2L449.4 957.9L450.6 960.6L451.6 963.4L452.4 966.2L453.1 969.1L453.5 971.9L453.8 974.8Z" fill="none" stroke="#FFD9D6" stroke-width="1.8" />
<path d="M465.9 982.6L465.8 987.1L465.4 991.6L464.7 995.8L463.7 999.9L462.5 1003.8L461.1 1007.4L459.4 1010.8L457.5 1013.9L455.4 1016.7L453.0 1019.1L450.5 1021.1L447.9 1022.8L445.1 1024.1L442.2 1025.0L439.2 1025.6L436.1 1025.7L433.0 1025.3L429.9 1024.6L426.7 1023.5L423.6 1022.0L420.5 1020.1L417.5 1017.9L414.6 1015.3L411.9 1012.4L409.2 1009.1L406.7 1005.6L404.4 1001.9L402.3 997.9L400.4 993.7L398.7 989.3L397.2 984.8L396.0 980.3L395.1 975.6L394.4 971.0L394.0 966.3L393.8 961.7L394.0 957.1L394.4 952.7L395.1 948.4L396.0 944.4L397.2 940.5L398.7 936.8L400.4 933.5L402.3 930.4L404.4 927.6L406.7 925.2L409.2 923.1L411.9 921.4L414.6 920.1L417.5 919.2L420.5 918.7L423.6 918.6L426.7 918.9L429.9 919.6L433.0 920.7L436.1 922.3L439.2 924.1L442.2 926.4L445.1 929.0L447.9 931.9L450.5 935.1L453.0 938.6L455.4 942.4L457.5 946.4L459.4 950.6L461.1 954.9L462.5 959.4L463.7 964.0L464.7 968.7L465.4 973.3L465.8 978.0Z" fill="none" stroke="#FF8A8E" stroke-width="1.8" />
<path d="M455.3 951.2L455.2 956.3L454.7 961.5L454.0 966.8L453.0 972.1L451.7 977.4L450.1 982.7L448.2 987.9L446.2 992.9L443.9 997.8L441.3 1002.5L438.6 1006.9L435.7 1011.1L432.7 1015.0L429.5 1018.5L426.3 1021.7L422.9 1024.5L419.5 1026.9L416.1 1028.9L412.7 1030.4L409.3 1031.5L405.9 1032.1L402.7 1032.3L399.5 1032.0L396.5 1031.2L393.6 1030.0L390.9 1028.3L388.4 1026.2L386.0 1023.7L384.0 1020.8L382.1 1017.5L380.5 1013.9L379.2 1009.9L378.2 1005.6L377.5 1001.1L377.0 996.4L376.9 991.4L377.0 986.3L377.5 981.1L378.2 975.8L379.2 970.5L380.5 965.2L382.1 959.9L384.0 954.8L386.0 949.7L388.4 944.8L390.9 940.1L393.6 935.7L396.5 931.5L399.5 927.6L402.7 924.1L405.9 920.9L409.3 918.1L412.7 915.7L416.1 913.7L419.5 912.2L422.9 911.1L426.3 910.5L429.5 910.3L432.7 910.6L435.7 911.4L438.6 912.6L441.3 914.3L443.9 916.4L446.2 918.9L448.2 921.8L450.1 925.1L451.7 928.7L453.0 932.7L454.0 937.0L454.7 941.5L455.2 946.3Z" fill="none" stroke="#7AB597" stroke-width="1.8" />
<path d="M475.6 986.2L475.5 989.2L475.0 992.2L474.3 995.2L473.3 998.2L472.0 1001.0L470.4 1003.8L468.5 1006.5L466.4 1009.0L464.1 1011.4L461.6 1013.6L458.9 1015.7L456.0 1017.5L452.9 1019.1L449.8 1020.5L446.5 1021.6L443.1 1022.5L439.7 1023.1L436.3 1023.5L432.9 1023.6L429.5 1023.4L426.1 1023.0L422.8 1022.3L419.7 1021.4L416.6 1020.2L413.7 1018.8L411.0 1017.2L408.5 1015.3L406.2 1013.2L404.1 1011.0L402.2 1008.6L400.6 1006.0L399.3 1003.3L398.3 1000.5L397.5 997.6L397.1 994.7L396.9 991.6L397.1 988.6L397.5 985.6L398.3 982.6L399.3 979.7L400.6 976.8L402.2 974.0L404.1 971.3L406.2 968.8L408.5 966.4L411.0 964.2L413.7 962.2L416.6 960.3L419.7 958.7L422.8 957.4L426.1 956.2L429.5 955.3L432.9 954.7L436.3 954.3L439.7 954.2L443.1 954.4L446.5 954.8L449.8 955.5L452.9 956.4L456.0 957.6L458.9 959.0L461.6 960.7L464.1 962.5L466.4 964.6L468.5 966.8L470.4 969.2L472.0 971.8L473.3 974.5L474.3 977.3L475.0 980.2L475.5 983.2Z" fill="none" stroke="#3E2E5C" stroke-width="1.8" />
<rect x="802.83" y="707.96" width="14.00" height="14.00" fill="#FF8A8E" stroke="none" stroke-width="0" fill-opacity="0.42"/>
<rect x="808.43" y="717.90" width="14.00" height="14.00" fill="#FF8A8E" stroke="none" stroke-width="0" fill-opacity="0.42"/>
<rect x="791.86" y="725.15" width="14.00" height="14.00" fill="#FF8A8E" stroke="none" stroke-width="0" fill-opacity="0.42"/>
<rect x="805.94" y="726.19" width="14.00" height="14.00" fill="#FF8A8E" stroke="none" stroke-width="0" fill-opacity="0.42"/>
<rect x="795.59" y="742.75" width="14.00" height="14.00" fill="#FF8A8E" stroke="none" stroke-width="0" fill-opacity="0.42"/>
<rect x="814.22" y="762.43" width="14.00" height="14.00" fill="#FF8A8E" stroke="none" stroke-width="0" fill-opacity="0.42"/>
<rect x="785.23" y="771.33" width="14.00" height="14.00" fill="#FF8A8E" stroke="none" stroke-width="0" fill-opacity="0.42"/>
<rect x="827.06" y="770.71" width="14.00" height="14.00" fill="#FF8A8E" stroke="none" stroke-width="0" fill-opacity="0.42"/>
<rect x="862.89" y="792.04" width="14.00" height="14.00" fill="#FF8A8E" stroke="none" stroke-width="0" fill-opacity="0.42"/>
<path d="M798.4 714.8L805.4 721.8L798.4 728.8L791.4 721.8Z" fill="#FFD9D6" stroke="none" stroke-width="0" fill-opacity="0.6"/>
<path d="M815.0 775.9L822.0 782.9L815.0 789.9L808.0 782.9Z" fill="#FFD9D6" stroke="none" stroke-width="0" fill-opacity="0.6"/>
<path d="M809.8 721.5L819.1 737.3L800.5 737.3Z" fill="#5B4A6E" stroke="none" stroke-width="0" fill-opacity="0.43"/>
<path d="M806.7 732.9L816.0 748.7L797.4 748.7Z" fill="#5B4A6E" stroke="none" stroke-width="0" fill-opacity="0.43"/>
<path d="M816.0 739.1L825.3 754.9L806.7 754.9Z" fill="#5B4A6E" stroke="none" stroke-width="0" fill-opacity="0.43"/>
<path d="M832.0 741.2L841.3 757.0L822.7 757.0Z" fill="#5B4A6E" stroke="none" stroke-width="0" fill-opacity="0.43"/>
<path d="M816.0 753.6L825.3 769.4L806.7 769.4Z" fill="#5B4A6E" stroke="none" stroke-width="0" fill-opacity="0.43"/>
<path d="M806.7 759.8L816.0 775.6L797.4 775.6Z" fill="#5B4A6E" stroke="none" stroke-width="0" fill-opacity="0.43"/>
<path d="M809.8 771.2L819.1 787.0L800.5 787.0Z" fill="#5B4A6E" stroke="none" stroke-width="0" fill-opacity="0.43"/>
<path d="M827.4 785.7L836.7 801.5L818.1 801.5Z" fill="#5B4A6E" stroke="none" stroke-width="0" fill-opacity="0.43"/>
<path d="M851.3 776.4L860.6 792.2L842.0 792.2Z" fill="#5B4A6E" stroke="none" stroke-width="0" fill-opacity="0.43"/>
<path d="M730.1 859.2L739.4 875.0L720.8 875.0Z" fill="#5B4A6E" stroke="none" stroke-width="0" fill-opacity="0.43"/>
<path d="M832.0 778.1L831.9 781.2L831.7 784.1L831.3 787.0L830.8 789.6L830.2 792.1L829.4 794.3L828.5 796.4L827.5 798.2L826.4 799.8L825.2 801.1L823.9 802.1L822.5 802.9L821.0 803.4L819.5 803.6L817.9 803.5L816.2 803.1L814.6 802.5L812.9 801.5L811.3 800.3L809.6 798.8L808.0 797.1L806.4 795.2L804.9 793.0L803.4 790.6L802.0 788.0L800.7 785.2L799.5 782.4L798.3 779.3L797.3 776.2L796.4 773.0L795.7 769.7L795.0 766.4L794.5 763.1L794.2 759.9L794.0 756.6L793.9 753.5L794.0 750.4L794.2 747.5L794.5 744.7L795.0 742.0L795.7 739.5L796.4 737.3L797.3 735.2L798.3 733.4L799.5 731.8L800.7 730.5L802.0 729.5L803.4 728.7L804.9 728.2L806.4 728.0L808.0 728.1L809.6 728.5L811.3 729.1L812.9 730.1L814.6 731.3L816.2 732.8L817.9 734.5L819.5 736.4L821.0 738.6L822.5 741.0L823.9 743.6L825.2 746.4L826.4 749.3L827.5 752.3L828.5 755.4L829.4 758.6L830.2 761.9L830.8 765.2L831.3 768.5L831.7 771.7L831.9 775.0Z" fill="none" stroke="#FFD9D6" stroke-width="1.8" />
<path d="M858.5 786.3L858.3 790.9L857.8 795.1L857.0 799.0L855.8 802.4L854.2 805.5L852.4 808.0L850.3 810.1L847.9 811.7L845.2 812.8L842.3 813.4L839.2 813.5L835.8 813.1L832.3 812.1L828.7 810.7L824.9 808.7L821.0 806.3L817.1 803.4L813.1 800.1L809.2 796.3L805.3 792.2L801.4 787.7L797.6 782.9L794.0 777.8L790.5 772.5L787.1 767.0L784.0 761.3L781.1 755.5L778.4 749.6L776.0 743.7L773.9 737.8L772.0 731.9L770.5 726.2L769.3 720.6L768.5 715.2L768.0 710.0L767.8 705.1L768.0 700.6L768.5 696.3L769.3 692.5L770.5 689.0L772.0 686.0L773.9 683.4L776.0 681.3L778.4 679.7L781.1 678.6L784.0 678.0L787.1 677.9L790.5 678.4L794.0 679.3L797.6 680.8L801.4 682.7L805.3 685.1L809.2 688.0L813.1 691.4L817.1 695.1L821.0 699.2L824.9 703.7L828.7 708.5L832.3 713.6L835.8 718.9L839.2 724.5L842.3 730.2L845.2 736.0L847.9 741.9L850.3 747.8L852.4 753.7L854.2 759.5L855.8 765.2L857.0 770.8L857.8 776.2L858.3 781.4Z" fill="none" stroke="#FF8A8E" stroke-width="1.8" />
<path d="M862.6 753.9L862.5 759.5L861.9 765.2L861.1 770.9L859.9 776.6L858.4 782.2L856.5 787.7L854.4 793.0L851.9 798.1L849.2 803.0L846.3 807.5L843.1 811.8L839.8 815.7L836.2 819.2L832.5 822.4L828.7 825.1L824.8 827.3L820.9 829.1L816.9 830.4L812.9 831.2L808.9 831.5L805.0 831.4L801.2 830.7L797.5 829.5L794.0 827.9L790.6 825.7L787.5 823.2L784.5 820.1L781.8 816.7L779.4 812.9L777.2 808.7L775.4 804.2L773.9 799.5L772.7 794.4L771.8 789.2L771.3 783.7L771.1 778.2L771.3 772.5L771.8 766.8L772.7 761.1L773.9 755.4L775.4 749.8L777.2 744.3L779.4 739.0L781.8 733.9L784.5 729.1L787.5 724.5L790.6 720.2L794.0 716.3L797.5 712.8L801.2 709.6L805.0 706.9L808.9 704.7L812.9 702.9L816.9 701.6L820.9 700.8L824.8 700.5L828.7 700.7L832.5 701.3L836.2 702.5L839.8 704.2L843.1 706.3L846.3 708.9L849.2 711.9L851.9 715.3L854.4 719.1L856.5 723.3L858.4 727.8L859.9 732.6L861.1 737.6L861.9 742.9L862.5 748.3Z" fill="none" stroke="#3E2E5C" stroke-width="1.8" />
<circle cx="714.16" cy="893.55" r="6.8" fill="#7AB597" stroke="none" stroke-width="0" fill-opacity="0.42"/>
<circle cx="743.57" cy="935.17" r="6.8" fill="#7AB597" stroke="none" stroke-width="0" fill-opacity="0.42"/>
<circle cx="699.05" cy="958.78" r="6.8" fill="#7AB597" stroke="none" stroke-width="0" fill-opacity="0.42"/>
<circle cx="709.81" cy="958.36" r="6.8" fill="#7AB597" stroke="none" stroke-width="0" fill-opacity="0.42"/>
<circle cx="701.12" cy="992.12" r="6.8" fill="#7AB597" stroke="none" stroke-width="0" fill-opacity="0.42"/>
<circle cx="670.68" cy="1007.44" r="6.8" fill="#7AB597" stroke="none" stroke-width="0" fill-opacity="0.42"/>
<circle cx="678.34" cy="1007.03" r="6.8" fill="#7AB597" stroke="none" stroke-width="0" fill-opacity="0.42"/>
<circle cx="689.73" cy="1007.03" r="6.8" fill="#7AB597" stroke="none" stroke-width="0" fill-opacity="0.42"/>
<circle cx="702.15" cy="1027.74" r="6.8" fill="#7AB597" stroke="none" stroke-width="0" fill-opacity="0.42"/>
<path d="M746.7 917.1L746.5 923.1L745.9 929.6L744.9 936.5L743.6 943.8L741.8 951.4L739.8 959.2L737.3 967.2L734.6 975.4L731.6 983.7L728.3 992.0L724.7 1000.2L720.9 1008.3L716.9 1016.2L712.7 1023.9L708.5 1031.3L704.1 1038.4L699.6 1045.0L695.1 1051.2L690.6 1056.9L686.2 1062.1L681.8 1066.6L677.5 1070.6L673.3 1073.9L669.3 1076.5L665.5 1078.4L662.0 1079.6L658.6 1080.1L655.6 1079.9L652.9 1079.0L650.5 1077.3L648.4 1074.9L646.7 1071.9L645.3 1068.2L644.3 1063.9L643.7 1059.0L643.5 1053.5L643.7 1047.5L644.3 1041.0L645.3 1034.1L646.7 1026.8L648.4 1019.2L650.5 1011.4L652.9 1003.3L655.6 995.1L658.6 986.9L662.0 978.6L665.5 970.4L669.3 962.3L673.3 954.3L677.5 946.7L681.8 939.2L686.2 932.2L690.6 925.5L695.1 919.4L699.6 913.7L704.1 908.5L708.5 904.0L712.7 900.0L716.9 896.7L720.9 894.1L724.7 892.2L728.3 891.0L731.6 890.5L734.6 890.7L737.3 891.6L739.8 893.3L741.8 895.6L743.6 898.7L744.9 902.4L745.9 906.7L746.5 911.6Z" fill="none" stroke="#7AB597" stroke-width="1.8" />
<rect x="1056.50" y="690.98" width="14.00" height="14.00" fill="#FF8A8E" stroke="none" stroke-width="0" fill-opacity="0.42"/>
<rect x="1065.41" y="703.41" width="14.00" height="14.00" fill="#FF8A8E" stroke="none" stroke-width="0" fill-opacity="0.42"/>
<rect x="1069.55" y="705.48" width="14.00" height="14.00" fill="#FF8A8E" stroke="none" stroke-width="0" fill-opacity="0.42"/>
<rect x="1064.37" y="713.76" width="14.00" height="14.00" fill="#FF8A8E" stroke="none" stroke-width="0" fill-opacity="0.42"/>
<rect x="1103.72" y="717.90" width="14.00" height="14.00" fill="#FF8A8E" stroke="none" stroke-width="0" fill-opacity="0.42"/>
<rect x="1054.02" y="732.40" width="14.00" height="14.00" fill="#FF8A8E" stroke="none" stroke-width="0" fill-opacity="0.42"/>
<rect x="1072.66" y="734.47" width="14.00" height="14.00" fill="#FF8A8E" stroke="none" stroke-width="0" fill-opacity="0.42"/>
<rect x="1074.73" y="744.82" width="14.00" height="14.00" fill="#FF8A8E" stroke="none" stroke-width="0" fill-opacity="0.42"/>
<rect x="1071.62" y="750.00" width="14.00" height="14.00" fill="#FF8A8E" stroke="none" stroke-width="0" fill-opacity="0.42"/>
<path d="M1056.9 710.7L1063.9 717.7L1056.9 724.7L1049.9 717.7Z" fill="#FFD9D6" stroke="none" stroke-width="0" fill-opacity="0.6"/>
<path d="M1078.6 757.2L1085.6 764.2L1078.6 771.2L1071.6 764.2Z" fill="#FFD9D6" stroke="none" stroke-width="0" fill-opacity="0.6"/>
<path d="M1074.5 696.7L1083.8 712.5L1065.2 712.5Z" fill="#5B4A6E" stroke="none" stroke-width="0" fill-opacity="0.43"/>
<path d="M1075.1 700.4L1084.4 716.2L1065.8 716.2Z" fill="#5B4A6E" stroke="none" stroke-width="0" fill-opacity="0.43"/>
<path d="M1073.4 710.1L1082.7 725.9L1064.1 725.9Z" fill="#5B4A6E" stroke="none" stroke-width="0" fill-opacity="0.43"/>
<path d="M1072.0 712.8L1081.3 728.6L1062.7 728.6Z" fill="#5B4A6E" stroke="none" stroke-width="0" fill-opacity="0.43"/>
<path d="M1090.0 710.1L1099.3 725.9L1080.7 725.9Z" fill="#5B4A6E" stroke="none" stroke-width="0" fill-opacity="0.43"/>
<path d="M1073.4 726.7L1082.7 742.5L1064.1 742.5Z" fill="#5B4A6E" stroke="none" stroke-width="0" fill-opacity="0.43"/>
<path d="M1083.8 727.7L1093.1 743.5L1074.5 743.5Z" fill="#5B4A6E" stroke="none" stroke-width="0" fill-opacity="0.43"/>
<path d="M1066.2 746.4L1075.5 762.2L1056.9 762.2Z" fill="#5B4A6E" stroke="none" stroke-width="0" fill-opacity="0.43"/>
<path d="M1092.1 722.8L1092.0 728.8L1091.7 734.8L1091.3 740.8L1090.7 746.7L1090.0 752.5L1089.1 758.0L1088.1 763.3L1086.9 768.4L1085.6 773.1L1084.1 777.5L1082.6 781.5L1081.0 785.1L1079.2 788.3L1077.4 791.0L1075.6 793.2L1073.7 794.9L1071.8 796.1L1069.8 796.8L1067.9 797.0L1066.0 796.6L1064.1 795.7L1062.2 794.3L1060.4 792.4L1058.7 789.9L1057.1 787.1L1055.5 783.7L1054.1 780.0L1052.8 775.8L1051.6 771.3L1050.5 766.4L1049.6 761.2L1048.9 755.8L1048.3 750.2L1047.9 744.4L1047.6 738.4L1047.6 732.4L1047.6 726.4L1047.9 720.3L1048.3 714.4L1048.9 708.5L1049.6 702.7L1050.5 697.2L1051.6 691.9L1052.8 686.8L1054.1 682.1L1055.5 677.7L1057.1 673.7L1058.7 670.1L1060.4 666.9L1062.2 664.2L1064.1 662.0L1066.0 660.3L1067.9 659.1L1069.8 658.4L1071.8 658.2L1073.7 658.6L1075.6 659.5L1077.4 660.9L1079.2 662.8L1081.0 665.2L1082.6 668.1L1084.1 671.5L1085.6 675.2L1086.9 679.4L1088.1 683.9L1089.1 688.8L1090.0 694.0L1090.7 699.4L1091.3 705.0L1091.7 710.8L1092.0 716.7Z" fill="none" stroke="#FFD9D6" stroke-width="1.8" />
<path d="M1099.3 747.8L1099.2 751.3L1098.9 754.7L1098.5 757.7L1097.8 760.5L1097.0 763.1L1095.9 765.3L1094.7 767.2L1093.4 768.8L1091.9 770.0L1090.3 770.9L1088.5 771.4L1086.6 771.5L1084.7 771.3L1082.6 770.7L1080.5 769.7L1078.4 768.4L1076.2 766.7L1074.0 764.7L1071.8 762.4L1069.6 759.8L1067.4 756.9L1065.3 753.8L1063.2 750.4L1061.3 746.8L1059.4 743.1L1057.7 739.1L1056.0 735.1L1054.5 731.0L1053.2 726.8L1052.0 722.6L1051.0 718.4L1050.1 714.2L1049.5 710.1L1049.0 706.1L1048.7 702.2L1048.6 698.5L1048.7 694.9L1049.0 691.6L1049.5 688.6L1050.1 685.7L1051.0 683.2L1052.0 681.0L1053.2 679.1L1054.5 677.5L1056.0 676.3L1057.7 675.4L1059.4 674.9L1061.3 674.8L1063.2 675.0L1065.3 675.6L1067.4 676.6L1069.6 677.9L1071.8 679.6L1074.0 681.6L1076.2 683.9L1078.4 686.5L1080.5 689.4L1082.6 692.5L1084.7 695.9L1086.6 699.5L1088.5 703.2L1090.3 707.1L1091.9 711.2L1093.4 715.3L1094.7 719.5L1095.9 723.7L1097.0 727.9L1097.8 732.1L1098.5 736.2L1098.9 740.2L1099.2 744.1Z" fill="none" stroke="#FF8A8E" stroke-width="1.8" />
<path d="M1094.6 717.9L1094.5 722.0L1094.3 726.2L1094.0 730.3L1093.5 734.4L1092.9 738.4L1092.2 742.2L1091.3 746.0L1090.4 749.5L1089.3 752.9L1088.1 756.0L1086.9 758.9L1085.6 761.5L1084.2 763.8L1082.7 765.8L1081.2 767.5L1079.7 768.9L1078.1 769.9L1076.6 770.6L1075.0 770.9L1073.4 770.8L1071.9 770.4L1070.4 769.6L1068.9 768.4L1067.5 767.0L1066.2 765.2L1065.0 763.0L1063.8 760.6L1062.7 757.9L1061.8 754.9L1060.9 751.7L1060.2 748.3L1059.6 744.6L1059.1 740.8L1058.8 736.9L1058.6 732.9L1058.5 728.8L1058.6 724.7L1058.8 720.5L1059.1 716.4L1059.6 712.3L1060.2 708.3L1060.9 704.5L1061.8 700.7L1062.7 697.2L1063.8 693.8L1065.0 690.7L1066.2 687.8L1067.5 685.2L1068.9 682.9L1070.4 680.9L1071.9 679.2L1073.4 677.8L1075.0 676.8L1076.6 676.1L1078.1 675.8L1079.7 675.9L1081.2 676.3L1082.7 677.1L1084.2 678.3L1085.6 679.7L1086.9 681.5L1088.1 683.7L1089.3 686.1L1090.4 688.8L1091.3 691.8L1092.2 695.0L1092.9 698.4L1093.5 702.1L1094.0 705.9L1094.3 709.8L1094.5 713.8Z" fill="none" stroke="#3E2E5C" stroke-width="1.8" />
<circle cx="947.75" cy="930.82" r="6.8" fill="#7AB597" stroke="none" stroke-width="0" fill-opacity="0.42"/>
<circle cx="1022.71" cy="940.35" r="6.8" fill="#7AB597" stroke="none" stroke-width="0" fill-opacity="0.42"/>
<circle cx="956.44" cy="950.70" r="6.8" fill="#7AB597" stroke="none" stroke-width="0" fill-opacity="0.42"/>
<circle cx="968.87" cy="952.77" r="6.8" fill="#7AB597" stroke="none" stroke-width="0" fill-opacity="0.42"/>
<circle cx="994.75" cy="972.86" r="6.8" fill="#7AB597" stroke="none" stroke-width="0" fill-opacity="0.42"/>
<circle cx="968.87" cy="982.18" r="6.8" fill="#7AB597" stroke="none" stroke-width="0" fill-opacity="0.42"/>
<circle cx="940.91" cy="997.09" r="6.8" fill="#7AB597" stroke="none" stroke-width="0" fill-opacity="0.42"/>
<circle cx="952.30" cy="997.71" r="6.8" fill="#7AB597" stroke="none" stroke-width="0" fill-opacity="0.42"/>
<circle cx="1005.11" cy="1006.61" r="6.8" fill="#7AB597" stroke="none" stroke-width="0" fill-opacity="0.42"/>
<circle cx="999.93" cy="1015.93" r="6.8" fill="#7AB597" stroke="none" stroke-width="0" fill-opacity="0.42"/>
<path d="M1041.3 885.5L1048.3 892.5L1041.3 899.5L1034.3 892.5Z" fill="#FFD9D6" stroke="none" stroke-width="0" fill-opacity="0.6"/>
<path d="M1045.5 989.6L1045.2 996.2L1044.4 1002.6L1043.1 1008.9L1041.2 1014.8L1038.8 1020.5L1036.0 1025.8L1032.7 1030.8L1028.9 1035.3L1024.7 1039.4L1020.2 1043.0L1015.2 1046.0L1010.0 1048.6L1004.5 1050.5L998.8 1051.9L992.9 1052.8L986.9 1053.0L980.7 1052.6L974.6 1051.7L968.4 1050.2L962.2 1048.1L956.2 1045.4L950.3 1042.3L944.6 1038.6L939.1 1034.4L933.9 1029.8L929.0 1024.8L924.4 1019.4L920.2 1013.6L916.5 1007.6L913.1 1001.3L910.3 994.8L907.9 988.2L906.1 981.5L904.7 974.8L903.9 968.0L903.6 961.3L903.9 954.7L904.7 948.3L906.1 942.0L907.9 936.1L910.3 930.4L913.1 925.1L916.5 920.1L920.2 915.6L924.4 911.5L929.0 907.9L933.9 904.9L939.1 902.3L944.6 900.4L950.3 899.0L956.2 898.1L962.2 897.9L968.4 898.3L974.6 899.2L980.7 900.7L986.9 902.8L992.9 905.5L998.8 908.6L1004.5 912.3L1010.0 916.5L1015.2 921.1L1020.2 926.1L1024.7 931.5L1028.9 937.3L1032.7 943.3L1036.0 949.6L1038.8 956.0L1041.2 962.7L1043.1 969.4L1044.4 976.1L1045.2 982.9Z" fill="none" stroke="#7AB597" stroke-width="1.8" />
<text x="1175.20" y="811.60" font-size="15.5" font-family="'DejaVu Sans', 'Liberation Sans', sans-serif" fill="#000" textLength="47.50" lengthAdjust="spacing" >Group</text>
<line x1="1178.00" y1="834.40" x2="1197.00" y2="834.40" stroke="#FFD9D6" stroke-width="1.5" />
<path d="M1187.5 828.9L1193.0 834.4L1187.5 839.9L1182.0 834.4Z" fill="#FFD9D6" stroke="none" stroke-width="0" fill-opacity="0.6"/>
<text x="1208.50" y="838.60" font-size="12.7" font-family="'DejaVu Sans', 'Liberation Sans', sans-serif" fill="#000" textLength="78.10" lengthAdjust="spacing" >Clindamycin</text>
<line x1="1178.00" y1="860.00" x2="1197.00" y2="860.00" stroke="#FF8A8E" stroke-width="1.5" />
<rect x="1182.00" y="854.50" width="11.00" height="11.00" fill="#FF8A8E" stroke="none" stroke-width="0" fill-opacity="0.42"/>
<text x="1208.50" y="864.20" font-size="12.7" font-family="'DejaVu Sans', 'Liberation Sans', sans-serif" fill="#000" textLength="162.20" lengthAdjust="spacing" >Clindamycin + C. difficile</text>
<line x1="1178.00" y1="885.60" x2="1197.00" y2="885.60" stroke="#3E2E5C" stroke-width="1.5" />
<path d="M1187.5 878.1L1194.7 890.4L1180.3 890.4Z" fill="#5B4A6E" stroke="none" stroke-width="0" fill-opacity="0.5"/>
<text x="1208.50" y="889.80" font-size="12.7" font-family="'DejaVu Sans', 'Liberation Sans', sans-serif" fill="#000" textLength="344.30" lengthAdjust="spacing" >Clindamycin + C. difficile + B. velezensis DSM 33864</text>
<line x1="1178.00" y1="911.20" x2="1197.00" y2="911.20" stroke="#7AB597" stroke-width="1.5" />
<circle cx="1187.50" cy="911.20" r="5.4" fill="#7AB597" stroke="none" stroke-width="0" fill-opacity="0.42"/>
<text x="1208.50" y="915.40" font-size="12.7" font-family="'DejaVu Sans', 'Liberation Sans', sans-serif" fill="#000" textLength="94.30" lengthAdjust="spacing" >Vehicle control</text>
<text transform="translate(1542.30 599.70) scale(1.17 1.035)" font-size="37.3" font-family="'DejaVu Sans', 'Liberation Sans', sans-serif" fill="#000">g</text>
<text x="1624.10" y="632.60" font-size="33" font-family="'Liberation Sans', Arial, Helvetica, sans-serif" fill="#000" textLength="324.30" lengthAdjust="spacing" ><tspan>Commensal </tspan><tspan font-style="italic">Clostridia</tspan></text>
<clipPath id="cpg"><rect x="1650" y="665.1" width="340" height="316"/></clipPath>
<line x1="1659.90" y1="735.20" x2="1976.00" y2="735.20" stroke="#EFEFEF" stroke-width="1.0" />
<line x1="1659.90" y1="824.50" x2="1976.00" y2="824.50" stroke="#EFEFEF" stroke-width="1.0" />
<line x1="1659.90" y1="912.40" x2="1976.00" y2="912.40" stroke="#EFEFEF" stroke-width="1.0" />
<line x1="1659.90" y1="691.40" x2="1976.00" y2="691.40" stroke="#EFEFEF" stroke-width="1.8" />
<line x1="1659.90" y1="779.70" x2="1976.00" y2="779.70" stroke="#EFEFEF" stroke-width="1.8" />
<line x1="1659.90" y1="868.50" x2="1976.00" y2="868.50" stroke="#EFEFEF" stroke-width="1.8" />
<line x1="1659.90" y1="956.80" x2="1976.00" y2="956.80" stroke="#EFEFEF" stroke-width="1.8" />
<line x1="1704.90" y1="665.10" x2="1704.90" y2="980.00" stroke="#EFEFEF" stroke-width="1.8" />
<line x1="1780.00" y1="665.10" x2="1780.00" y2="980.00" stroke="#EFEFEF" stroke-width="1.8" />
<line x1="1855.60" y1="665.10" x2="1855.60" y2="980.00" stroke="#EFEFEF" stroke-width="1.8" />
<line x1="1930.60" y1="665.10" x2="1930.60" y2="980.00" stroke="#EFEFEF" stroke-width="1.8" />
<text x="1649.20" y="699.60" font-size="22" font-family="'DejaVu Sans', 'Liberation Sans', sans-serif" fill="#454545" text-anchor="end" >10</text>
<text x="1649.20" y="787.90" font-size="22" font-family="'DejaVu Sans', 'Liberation Sans', sans-serif" fill="#454545" text-anchor="end" >5</text>
<text x="1649.20" y="876.70" font-size="22" font-family="'DejaVu Sans', 'Liberation Sans', sans-serif" fill="#454545" text-anchor="end" >0</text>
<text x="1649.20" y="965.00" font-size="22" font-family="'DejaVu Sans', 'Liberation Sans', sans-serif" fill="#454545" text-anchor="end" >-5</text>
<text x="1605.50" y="952.00" font-size="22" font-family="'Liberation Sans', Arial, Helvetica, sans-serif" fill="#000" textLength="266.00" lengthAdjust="spacing" transform="rotate(-90 1605.50 952.00)" >Clr transformed abundance</text>
<path d="M1704.90 764.70V757.70H1780.00V764.70" fill="none" stroke="#000" stroke-width="1.7" clip-path="url(#cpg)"/>
<text x="1742.50" y="753.30" font-size="20" font-family="'DejaVu Sans', 'Liberation Sans', sans-serif" fill="#000" text-anchor="middle" clip-path="url(#cpg)">***</text>
<path d="M1780.00 726.00V719.40H1855.60V726.00" fill="none" stroke="#000" stroke-width="1.7" clip-path="url(#cpg)"/>
<text x="1817.50" y="715.60" font-size="20.5" font-family="'DejaVu Sans', 'Liberation Sans', sans-serif" fill="#000" text-anchor="middle" clip-path="url(#cpg)">NS.</text>
<path d="M1855.60 685.60V678.90H1930.60V685.60" fill="none" stroke="#000" stroke-width="1.7" clip-path="url(#cpg)"/>
<text x="1892.60" y="675.00" font-size="20.5" font-family="'DejaVu Sans', 'Liberation Sans', sans-serif" fill="#000" text-anchor="middle" clip-path="url(#cpg)">NS.</text>
<line x1="1704.90" y1="767.70" x2="1704.90" y2="826.50" stroke="#2E2B2B" stroke-width="1.9" />
<line x1="1704.90" y1="906.40" x2="1704.90" y2="965.80" stroke="#2E2B2B" stroke-width="1.9" />
<rect x="1676.90" y="826.50" width="56.20" height="79.90" fill="#7AB597" stroke="#2E2B2B" stroke-width="1.9" />
<line x1="1676.90" y1="865.70" x2="1733.10" y2="865.70" stroke="#2E2B2B" stroke-width="4.2" />
<circle cx="1780.00" cy="811.50" r="4.3" fill="#2E2B2B" stroke="none" stroke-width="0" />
<circle cx="1780.00" cy="815.00" r="4.3" fill="#2E2B2B" stroke="none" stroke-width="0" />
<circle cx="1780.00" cy="819.00" r="4.3" fill="#2E2B2B" stroke="none" stroke-width="0" />
<circle cx="1780.00" cy="823.00" r="4.3" fill="#2E2B2B" stroke="none" stroke-width="0" />
<circle cx="1780.00" cy="827.00" r="4.3" fill="#2E2B2B" stroke="none" stroke-width="0" />
<circle cx="1780.00" cy="831.00" r="4.3" fill="#2E2B2B" stroke="none" stroke-width="0" />
<circle cx="1780.00" cy="921.00" r="4.3" fill="#2E2B2B" stroke="none" stroke-width="0" />
<circle cx="1780.00" cy="924.50" r="4.3" fill="#2E2B2B" stroke="none" stroke-width="0" />
<circle cx="1780.00" cy="928.00" r="4.3" fill="#2E2B2B" stroke="none" stroke-width="0" />
<line x1="1780.00" y1="832.80" x2="1780.00" y2="863.10" stroke="#2E2B2B" stroke-width="1.9" />
<line x1="1780.00" y1="886.30" x2="1780.00" y2="918.00" stroke="#2E2B2B" stroke-width="1.9" />
<rect x="1752.40" y="863.10" width="55.90" height="23.20" fill="#FFD9D6" stroke="#2E2B2B" stroke-width="1.9" />
<line x1="1752.40" y1="874.20" x2="1808.30" y2="874.20" stroke="#2E2B2B" stroke-width="4.2" />
<circle cx="1855.60" cy="782.20" r="4.3" fill="#2E2B2B" stroke="none" stroke-width="0" />
<circle cx="1855.60" cy="796.00" r="4.3" fill="#2E2B2B" stroke="none" stroke-width="0" />
<circle cx="1855.60" cy="810.50" r="4.3" fill="#2E2B2B" stroke="none" stroke-width="0" />
<circle cx="1855.60" cy="813.50" r="4.3" fill="#2E2B2B" stroke="none" stroke-width="0" />
<circle cx="1855.60" cy="823.30" r="4.3" fill="#2E2B2B" stroke="none" stroke-width="0" />
<circle cx="1855.60" cy="829.00" r="4.3" fill="#2E2B2B" stroke="none" stroke-width="0" />
<circle cx="1855.60" cy="922.00" r="4.3" fill="#2E2B2B" stroke="none" stroke-width="0" />
<circle cx="1855.60" cy="925.80" r="4.3" fill="#2E2B2B" stroke="none" stroke-width="0" />
<circle cx="1855.60" cy="929.50" r="4.3" fill="#2E2B2B" stroke="none" stroke-width="0" />
<line x1="1855.60" y1="832.80" x2="1855.60" y2="863.60" stroke="#2E2B2B" stroke-width="1.9" />
<line x1="1855.60" y1="887.10" x2="1855.60" y2="918.00" stroke="#2E2B2B" stroke-width="1.9" />
<rect x="1827.40" y="863.60" width="55.90" height="23.50" fill="#FF8A8E" stroke="#2E2B2B" stroke-width="1.9" />
<line x1="1827.40" y1="874.20" x2="1883.30" y2="874.20" stroke="#2E2B2B" stroke-width="4.2" />
<circle cx="1930.60" cy="786.50" r="4.3" fill="#2E2B2B" stroke="none" stroke-width="0" />
<circle cx="1930.60" cy="792.70" r="4.3" fill="#2E2B2B" stroke="none" stroke-width="0" />
<circle cx="1930.60" cy="827.00" r="4.3" fill="#2E2B2B" stroke="none" stroke-width="0" />
<circle cx="1930.60" cy="924.50" r="4.3" fill="#2E2B2B" stroke="none" stroke-width="0" />
<line x1="1930.60" y1="832.80" x2="1930.60" y2="862.60" stroke="#2E2B2B" stroke-width="1.9" />
<line x1="1930.60" y1="886.30" x2="1930.60" y2="918.00" stroke="#2E2B2B" stroke-width="1.9" />
<rect x="1903.00" y="862.60" width="56.20" height="23.70" fill="#5B4A6E" stroke="#2E2B2B" stroke-width="1.9" />
<line x1="1903.00" y1="872.90" x2="1959.20" y2="872.90" stroke="#2E2B2B" stroke-width="4.2" />
<text x="1551.60" y="1022.20" font-size="21.5" font-family="'Liberation Sans', Arial, Helvetica, sans-serif" fill="#000" textLength="117.90" lengthAdjust="spacing" >Clindamycin</text>
<text x="1568.00" y="1057.60" font-size="21.5" font-family="'Liberation Sans', Arial, Helvetica, sans-serif" fill="#000" font-style="italic" textLength="100.60" lengthAdjust="spacing" >C. difficile</text>
<text x="1541.30" y="1089.80" font-size="21.5" font-family="'Liberation Sans', Arial, Helvetica, sans-serif" fill="#000" font-style="italic" textLength="130.80" lengthAdjust="spacing" >B. velezensis</text>
<text x="1540.30" y="1117.60" font-size="21.5" font-family="'Liberation Sans', Arial, Helvetica, sans-serif" fill="#000" textLength="116.60" lengthAdjust="spacing" >DSM 33864</text>
<text x="1703.90" y="1023.38" font-size="33" font-family="'Liberation Sans', Arial, Helvetica, sans-serif" fill="#000" text-anchor="middle" font-weight="bold" stroke="#000" stroke-width="0.6">-</text>
<text x="1773.50" y="1022.43" font-size="33" font-family="'Liberation Sans', Arial, Helvetica, sans-serif" fill="#000" text-anchor="middle" font-weight="bold" stroke="#000" stroke-width="0.45">+</text>
<text x="1857.40" y="1022.43" font-size="33" font-family="'Liberation Sans', Arial, Helvetica, sans-serif" fill="#000" text-anchor="middle" font-weight="bold" stroke="#000" stroke-width="0.45">+</text>
<text x="1932.70" y="1022.43" font-size="33" font-family="'Liberation Sans', Arial, Helvetica, sans-serif" fill="#000" text-anchor="middle" font-weight="bold" stroke="#000" stroke-width="0.45">+</text>
<text x="1705.90" y="1062.08" font-size="33" font-family="'Liberation Sans', Arial, Helvetica, sans-serif" fill="#000" text-anchor="middle" font-weight="bold" stroke="#000" stroke-width="0.6">-</text>
<text x="1772.50" y="1062.08" font-size="33" font-family="'Liberation Sans', Arial, Helvetica, sans-serif" fill="#000" text-anchor="middle" font-weight="bold" stroke="#000" stroke-width="0.6">-</text>
<text x="1860.50" y="1061.13" font-size="33" font-family="'Liberation Sans', Arial, Helvetica, sans-serif" fill="#000" text-anchor="middle" font-weight="bold" stroke="#000" stroke-width="0.45">+</text>
<text x="1935.30" y="1061.13" font-size="33" font-family="'Liberation Sans', Arial, Helvetica, sans-serif" fill="#000" text-anchor="middle" font-weight="bold" stroke="#000" stroke-width="0.45">+</text>
<text x="1705.90" y="1103.38" font-size="33" font-family="'Liberation Sans', Arial, Helvetica, sans-serif" fill="#000" text-anchor="middle" font-weight="bold" stroke="#000" stroke-width="0.6">-</text>
<text x="1772.50" y="1103.38" font-size="33" font-family="'Liberation Sans', Arial, Helvetica, sans-serif" fill="#000" text-anchor="middle" font-weight="bold" stroke="#000" stroke-width="0.6">-</text>
<text x="1857.40" y="1103.38" font-size="33" font-family="'Liberation Sans', Arial, Helvetica, sans-serif" fill="#000" text-anchor="middle" font-weight="bold" stroke="#000" stroke-width="0.6">-</text>
<text x="1936.00" y="1101.93" font-size="33" font-family="'Liberation Sans', Arial, Helvetica, sans-serif" fill="#000" text-anchor="middle" font-weight="bold" stroke="#000" stroke-width="0.45">+</text>
</svg>
</body></html>
